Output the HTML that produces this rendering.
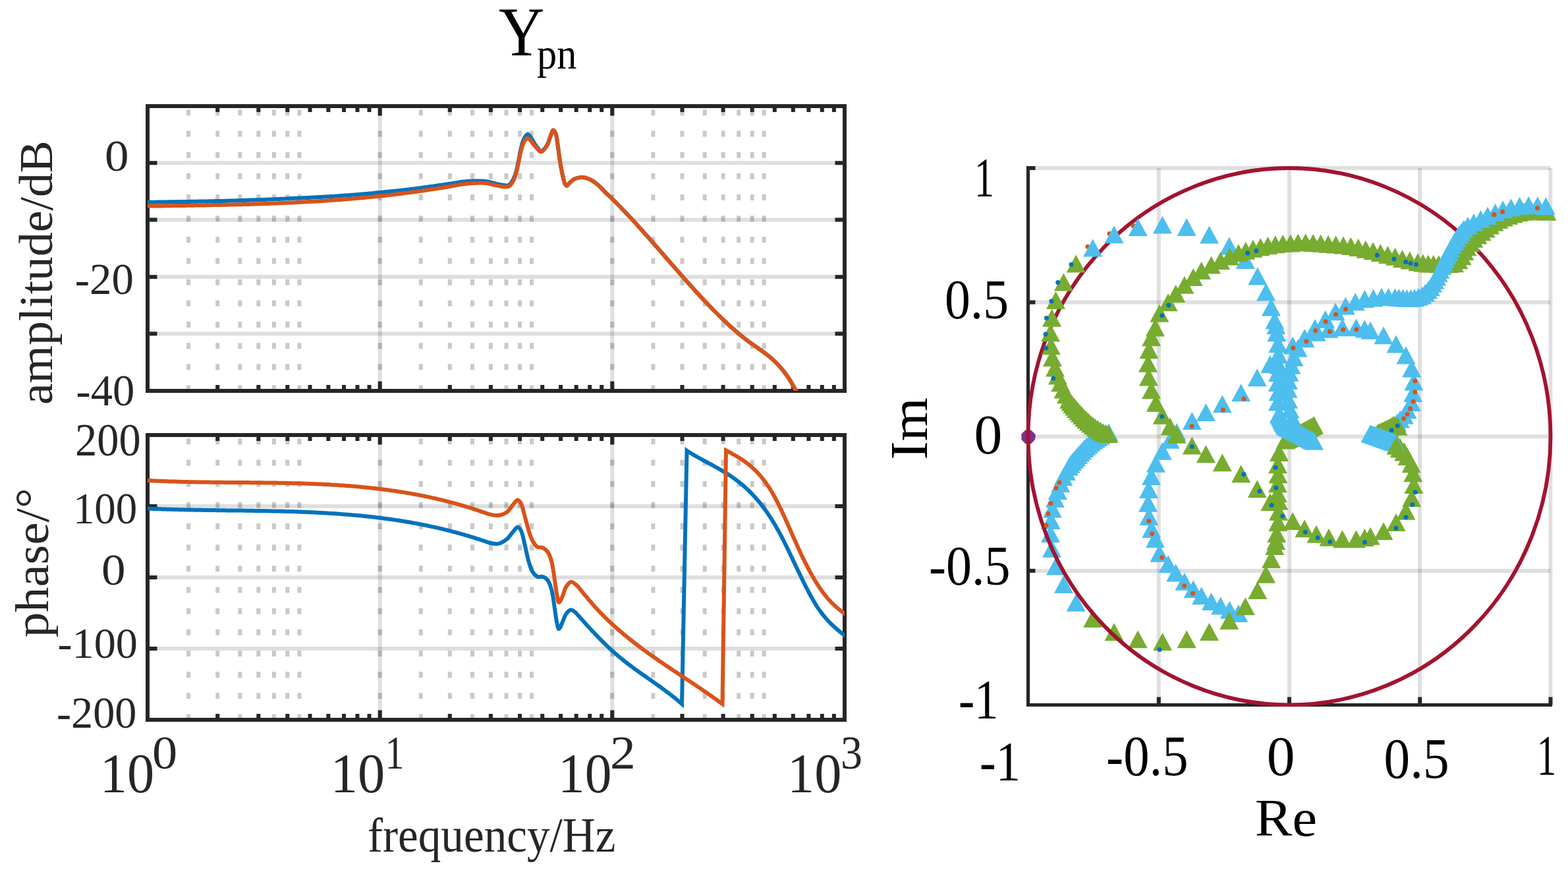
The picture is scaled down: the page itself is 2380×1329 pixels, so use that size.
<!DOCTYPE html>
<html><head><meta charset="utf-8"><title>Ypn</title>
<style>html,body{margin:0;padding:0;background:#fff;overflow:hidden}svg{display:block}text{font-family:"Liberation Serif","Times New Roman",serif}</style>
</head><body>
<svg width="2380" height="1329" viewBox="0 0 2380 1329">
<rect width="2380" height="1329" fill="#fff"/>
<defs><clipPath id="c1"><rect x="224" y="161" width="1058" height="432"/></clipPath><clipPath id="c2"><rect x="224" y="660" width="1058" height="432"/></clipPath></defs>
<line x1="576.7" y1="161.0" x2="576.7" y2="593.0" stroke="#262626" stroke-opacity="0.15" stroke-width="6.0"/>
<line x1="929.3" y1="161.0" x2="929.3" y2="593.0" stroke="#262626" stroke-opacity="0.15" stroke-width="6.0"/>
<line x1="224.0" y1="247.2" x2="1282.0" y2="247.2" stroke="#262626" stroke-opacity="0.15" stroke-width="6.0"/>
<line x1="224.0" y1="333.4" x2="1282.0" y2="333.4" stroke="#262626" stroke-opacity="0.15" stroke-width="6.0"/>
<line x1="224.0" y1="420.1" x2="1282.0" y2="420.1" stroke="#262626" stroke-opacity="0.15" stroke-width="6.0"/>
<line x1="224.0" y1="506.3" x2="1282.0" y2="506.3" stroke="#262626" stroke-opacity="0.15" stroke-width="6.0"/>
<line x1="286.1" y1="593.5" x2="286.1" y2="164.0" stroke="#262626" stroke-opacity="0.25" stroke-width="6.0" stroke-dasharray="9 23.17"/>
<line x1="330.2" y1="593.5" x2="330.2" y2="164.0" stroke="#262626" stroke-opacity="0.25" stroke-width="6.0" stroke-dasharray="9 23.17"/>
<line x1="364.3" y1="593.5" x2="364.3" y2="164.0" stroke="#262626" stroke-opacity="0.25" stroke-width="6.0" stroke-dasharray="9 23.17"/>
<line x1="392.3" y1="593.5" x2="392.3" y2="164.0" stroke="#262626" stroke-opacity="0.25" stroke-width="6.0" stroke-dasharray="9 23.17"/>
<line x1="415.9" y1="593.5" x2="415.9" y2="164.0" stroke="#262626" stroke-opacity="0.25" stroke-width="6.0" stroke-dasharray="9 23.17"/>
<line x1="436.3" y1="593.5" x2="436.3" y2="164.0" stroke="#262626" stroke-opacity="0.25" stroke-width="6.0" stroke-dasharray="9 23.17"/>
<line x1="454.4" y1="593.5" x2="454.4" y2="164.0" stroke="#262626" stroke-opacity="0.25" stroke-width="6.0" stroke-dasharray="9 23.17"/>
<line x1="576.7" y1="593.5" x2="576.7" y2="164.0" stroke="#262626" stroke-opacity="0.25" stroke-width="6.0" stroke-dasharray="9 23.17"/>
<line x1="638.8" y1="593.5" x2="638.8" y2="164.0" stroke="#262626" stroke-opacity="0.25" stroke-width="6.0" stroke-dasharray="9 23.17"/>
<line x1="682.8" y1="593.5" x2="682.8" y2="164.0" stroke="#262626" stroke-opacity="0.25" stroke-width="6.0" stroke-dasharray="9 23.17"/>
<line x1="717" y1="593.5" x2="717" y2="164.0" stroke="#262626" stroke-opacity="0.25" stroke-width="6.0" stroke-dasharray="9 23.17"/>
<line x1="744.9" y1="593.5" x2="744.9" y2="164.0" stroke="#262626" stroke-opacity="0.25" stroke-width="6.0" stroke-dasharray="9 23.17"/>
<line x1="768.5" y1="593.5" x2="768.5" y2="164.0" stroke="#262626" stroke-opacity="0.25" stroke-width="6.0" stroke-dasharray="9 23.17"/>
<line x1="789" y1="593.5" x2="789" y2="164.0" stroke="#262626" stroke-opacity="0.25" stroke-width="6.0" stroke-dasharray="9 23.17"/>
<line x1="807" y1="593.5" x2="807" y2="164.0" stroke="#262626" stroke-opacity="0.25" stroke-width="6.0" stroke-dasharray="9 23.17"/>
<line x1="929.3" y1="593.5" x2="929.3" y2="164.0" stroke="#262626" stroke-opacity="0.25" stroke-width="6.0" stroke-dasharray="9 23.17"/>
<line x1="991.4" y1="593.5" x2="991.4" y2="164.0" stroke="#262626" stroke-opacity="0.25" stroke-width="6.0" stroke-dasharray="9 23.17"/>
<line x1="1035.5" y1="593.5" x2="1035.5" y2="164.0" stroke="#262626" stroke-opacity="0.25" stroke-width="6.0" stroke-dasharray="9 23.17"/>
<line x1="1069.7" y1="593.5" x2="1069.7" y2="164.0" stroke="#262626" stroke-opacity="0.25" stroke-width="6.0" stroke-dasharray="9 23.17"/>
<line x1="1097.6" y1="593.5" x2="1097.6" y2="164.0" stroke="#262626" stroke-opacity="0.25" stroke-width="6.0" stroke-dasharray="9 23.17"/>
<line x1="1121.2" y1="593.5" x2="1121.2" y2="164.0" stroke="#262626" stroke-opacity="0.25" stroke-width="6.0" stroke-dasharray="9 23.17"/>
<line x1="1141.7" y1="593.5" x2="1141.7" y2="164.0" stroke="#262626" stroke-opacity="0.25" stroke-width="6.0" stroke-dasharray="9 23.17"/>
<line x1="1159.7" y1="593.5" x2="1159.7" y2="164.0" stroke="#262626" stroke-opacity="0.25" stroke-width="6.0" stroke-dasharray="9 23.17"/>
<line x1="224" y1="161.0" x2="224" y2="175.5" stroke="#262626" stroke-width="6.0"/>
<line x1="224" y1="593.0" x2="224" y2="578.5" stroke="#262626" stroke-width="6.0"/>
<line x1="330.2" y1="161.0" x2="330.2" y2="170.0" stroke="#262626" stroke-width="6.0"/>
<line x1="330.2" y1="593.0" x2="330.2" y2="584.0" stroke="#262626" stroke-width="6.0"/>
<line x1="392.3" y1="161.0" x2="392.3" y2="170.0" stroke="#262626" stroke-width="6.0"/>
<line x1="392.3" y1="593.0" x2="392.3" y2="584.0" stroke="#262626" stroke-width="6.0"/>
<line x1="436.3" y1="161.0" x2="436.3" y2="170.0" stroke="#262626" stroke-width="6.0"/>
<line x1="436.3" y1="593.0" x2="436.3" y2="584.0" stroke="#262626" stroke-width="6.0"/>
<line x1="470.5" y1="161.0" x2="470.5" y2="170.0" stroke="#262626" stroke-width="6.0"/>
<line x1="470.5" y1="593.0" x2="470.5" y2="584.0" stroke="#262626" stroke-width="6.0"/>
<line x1="498.4" y1="161.0" x2="498.4" y2="170.0" stroke="#262626" stroke-width="6.0"/>
<line x1="498.4" y1="593.0" x2="498.4" y2="584.0" stroke="#262626" stroke-width="6.0"/>
<line x1="522" y1="161.0" x2="522" y2="170.0" stroke="#262626" stroke-width="6.0"/>
<line x1="522" y1="593.0" x2="522" y2="584.0" stroke="#262626" stroke-width="6.0"/>
<line x1="542.5" y1="161.0" x2="542.5" y2="170.0" stroke="#262626" stroke-width="6.0"/>
<line x1="542.5" y1="593.0" x2="542.5" y2="584.0" stroke="#262626" stroke-width="6.0"/>
<line x1="560.5" y1="161.0" x2="560.5" y2="170.0" stroke="#262626" stroke-width="6.0"/>
<line x1="560.5" y1="593.0" x2="560.5" y2="584.0" stroke="#262626" stroke-width="6.0"/>
<line x1="576.7" y1="161.0" x2="576.7" y2="175.5" stroke="#262626" stroke-width="6.0"/>
<line x1="576.7" y1="593.0" x2="576.7" y2="578.5" stroke="#262626" stroke-width="6.0"/>
<line x1="682.8" y1="161.0" x2="682.8" y2="170.0" stroke="#262626" stroke-width="6.0"/>
<line x1="682.8" y1="593.0" x2="682.8" y2="584.0" stroke="#262626" stroke-width="6.0"/>
<line x1="744.9" y1="161.0" x2="744.9" y2="170.0" stroke="#262626" stroke-width="6.0"/>
<line x1="744.9" y1="593.0" x2="744.9" y2="584.0" stroke="#262626" stroke-width="6.0"/>
<line x1="789" y1="161.0" x2="789" y2="170.0" stroke="#262626" stroke-width="6.0"/>
<line x1="789" y1="593.0" x2="789" y2="584.0" stroke="#262626" stroke-width="6.0"/>
<line x1="823.2" y1="161.0" x2="823.2" y2="170.0" stroke="#262626" stroke-width="6.0"/>
<line x1="823.2" y1="593.0" x2="823.2" y2="584.0" stroke="#262626" stroke-width="6.0"/>
<line x1="851.1" y1="161.0" x2="851.1" y2="170.0" stroke="#262626" stroke-width="6.0"/>
<line x1="851.1" y1="593.0" x2="851.1" y2="584.0" stroke="#262626" stroke-width="6.0"/>
<line x1="874.7" y1="161.0" x2="874.7" y2="170.0" stroke="#262626" stroke-width="6.0"/>
<line x1="874.7" y1="593.0" x2="874.7" y2="584.0" stroke="#262626" stroke-width="6.0"/>
<line x1="895.2" y1="161.0" x2="895.2" y2="170.0" stroke="#262626" stroke-width="6.0"/>
<line x1="895.2" y1="593.0" x2="895.2" y2="584.0" stroke="#262626" stroke-width="6.0"/>
<line x1="913.2" y1="161.0" x2="913.2" y2="170.0" stroke="#262626" stroke-width="6.0"/>
<line x1="913.2" y1="593.0" x2="913.2" y2="584.0" stroke="#262626" stroke-width="6.0"/>
<line x1="929.3" y1="161.0" x2="929.3" y2="175.5" stroke="#262626" stroke-width="6.0"/>
<line x1="929.3" y1="593.0" x2="929.3" y2="578.5" stroke="#262626" stroke-width="6.0"/>
<line x1="1035.5" y1="161.0" x2="1035.5" y2="170.0" stroke="#262626" stroke-width="6.0"/>
<line x1="1035.5" y1="593.0" x2="1035.5" y2="584.0" stroke="#262626" stroke-width="6.0"/>
<line x1="1097.6" y1="161.0" x2="1097.6" y2="170.0" stroke="#262626" stroke-width="6.0"/>
<line x1="1097.6" y1="593.0" x2="1097.6" y2="584.0" stroke="#262626" stroke-width="6.0"/>
<line x1="1141.7" y1="161.0" x2="1141.7" y2="170.0" stroke="#262626" stroke-width="6.0"/>
<line x1="1141.7" y1="593.0" x2="1141.7" y2="584.0" stroke="#262626" stroke-width="6.0"/>
<line x1="1175.8" y1="161.0" x2="1175.8" y2="170.0" stroke="#262626" stroke-width="6.0"/>
<line x1="1175.8" y1="593.0" x2="1175.8" y2="584.0" stroke="#262626" stroke-width="6.0"/>
<line x1="1203.8" y1="161.0" x2="1203.8" y2="170.0" stroke="#262626" stroke-width="6.0"/>
<line x1="1203.8" y1="593.0" x2="1203.8" y2="584.0" stroke="#262626" stroke-width="6.0"/>
<line x1="1227.4" y1="161.0" x2="1227.4" y2="170.0" stroke="#262626" stroke-width="6.0"/>
<line x1="1227.4" y1="593.0" x2="1227.4" y2="584.0" stroke="#262626" stroke-width="6.0"/>
<line x1="1247.8" y1="161.0" x2="1247.8" y2="170.0" stroke="#262626" stroke-width="6.0"/>
<line x1="1247.8" y1="593.0" x2="1247.8" y2="584.0" stroke="#262626" stroke-width="6.0"/>
<line x1="1265.9" y1="161.0" x2="1265.9" y2="170.0" stroke="#262626" stroke-width="6.0"/>
<line x1="1265.9" y1="593.0" x2="1265.9" y2="584.0" stroke="#262626" stroke-width="6.0"/>
<line x1="1282" y1="161.0" x2="1282" y2="175.5" stroke="#262626" stroke-width="6.0"/>
<line x1="1282" y1="593.0" x2="1282" y2="578.5" stroke="#262626" stroke-width="6.0"/>
<line x1="224.0" y1="247.2" x2="238.5" y2="247.2" stroke="#262626" stroke-width="6.0"/>
<line x1="1282.0" y1="247.2" x2="1267.5" y2="247.2" stroke="#262626" stroke-width="6.0"/>
<line x1="224.0" y1="333.4" x2="238.5" y2="333.4" stroke="#262626" stroke-width="6.0"/>
<line x1="1282.0" y1="333.4" x2="1267.5" y2="333.4" stroke="#262626" stroke-width="6.0"/>
<line x1="224.0" y1="420.1" x2="238.5" y2="420.1" stroke="#262626" stroke-width="6.0"/>
<line x1="1282.0" y1="420.1" x2="1267.5" y2="420.1" stroke="#262626" stroke-width="6.0"/>
<line x1="224.0" y1="506.3" x2="238.5" y2="506.3" stroke="#262626" stroke-width="6.0"/>
<line x1="1282.0" y1="506.3" x2="1267.5" y2="506.3" stroke="#262626" stroke-width="6.0"/>
<rect x="224.0" y="161.0" width="1058.0" height="432.0" fill="none" stroke="#262626" stroke-width="6.0" stroke-linejoin="miter" stroke-linecap="square"/>
<g clip-path="url(#c1)" fill="none" stroke-width="6.0" stroke-linejoin="round">
<path d="M224.0 306.8 C225.0 306.8 226.0 306.8 227.0 306.8 C228.0 306.8 229.0 306.8 230.0 306.8 C231.0 306.7 232.0 306.7 233.0 306.7 C234.0 306.7 235.0 306.7 236.1 306.7 C237.1 306.6 238.1 306.6 239.1 306.6 C240.1 306.6 241.1 306.6 242.1 306.6 C243.1 306.6 244.1 306.5 245.1 306.5 C246.1 306.5 247.1 306.5 248.1 306.5 C249.1 306.5 250.1 306.5 251.1 306.4 C252.1 306.4 253.1 306.4 254.1 306.4 C255.1 306.4 256.1 306.4 257.1 306.3 C258.1 306.3 259.1 306.3 260.2 306.3 C261.2 306.3 262.2 306.3 263.2 306.2 C264.2 306.2 265.2 306.2 266.2 306.2 C267.2 306.2 268.2 306.2 269.2 306.2 C270.2 306.1 271.2 306.1 272.2 306.1 C273.2 306.1 274.2 306.1 275.2 306.1 C276.2 306.0 277.2 306.0 278.2 306.0 C279.2 306.0 280.2 306.0 281.2 306.0 C282.2 305.9 283.2 305.9 284.3 305.9 C285.3 305.9 286.3 305.9 287.3 305.9 C288.3 305.8 289.3 305.8 290.3 305.8 C291.3 305.8 292.3 305.8 293.3 305.8 C294.3 305.7 295.3 305.7 296.3 305.7 C297.3 305.7 298.3 305.7 299.3 305.7 C300.3 305.6 301.3 305.6 302.3 305.6 C303.3 305.6 304.3 305.6 305.3 305.5 C306.3 305.5 307.4 305.5 308.4 305.5 C309.4 305.5 310.4 305.4 311.4 305.4 C312.4 305.4 313.4 305.4 314.4 305.4 C315.4 305.3 316.4 305.3 317.4 305.3 C318.4 305.3 319.4 305.3 320.4 305.2 C321.4 305.2 322.4 305.2 323.4 305.2 C324.4 305.2 325.4 305.1 326.4 305.1 C327.4 305.1 328.4 305.1 329.4 305.1 C330.4 305.0 331.5 305.0 332.5 305.0 C333.5 305.0 334.5 304.9 335.5 304.9 C336.5 304.9 337.5 304.9 338.5 304.9 C339.5 304.8 340.5 304.8 341.5 304.8 C342.5 304.8 343.5 304.7 344.5 304.7 C345.5 304.7 346.5 304.7 347.5 304.6 C348.5 304.6 349.5 304.6 350.5 304.6 C351.5 304.5 352.5 304.5 353.5 304.5 C354.5 304.5 355.6 304.4 356.6 304.4 C357.6 304.4 358.6 304.3 359.6 304.3 C360.6 304.3 361.6 304.3 362.6 304.2 C363.6 304.2 364.6 304.2 365.6 304.1 C366.6 304.1 367.6 304.1 368.6 304.0 C369.6 304.0 370.6 304.0 371.6 303.9 C372.6 303.9 373.6 303.9 374.6 303.8 C375.6 303.8 376.6 303.8 377.6 303.7 C378.6 303.7 379.7 303.7 380.7 303.6 C381.7 303.6 382.7 303.6 383.7 303.5 C384.7 303.5 385.7 303.5 386.7 303.4 C387.7 303.4 388.7 303.4 389.7 303.3 C390.7 303.3 391.7 303.2 392.7 303.2 C393.7 303.2 394.7 303.1 395.7 303.1 C396.7 303.1 397.7 303.0 398.7 303.0 C399.7 302.9 400.7 302.9 401.7 302.9 C402.8 302.8 403.8 302.8 404.8 302.7 C405.8 302.7 406.8 302.7 407.8 302.6 C408.8 302.6 409.8 302.5 410.8 302.5 C411.8 302.5 412.8 302.4 413.8 302.4 C414.8 302.3 415.8 302.3 416.8 302.2 C417.8 302.2 418.8 302.2 419.8 302.1 C420.8 302.1 421.8 302.0 422.8 302.0 C423.8 301.9 424.8 301.9 425.8 301.8 C426.9 301.8 427.9 301.7 428.9 301.7 C429.9 301.6 430.9 301.6 431.9 301.6 C432.9 301.5 433.9 301.5 434.9 301.4 C435.9 301.4 436.9 301.3 437.9 301.3 C438.9 301.2 439.9 301.2 440.9 301.1 C441.9 301.1 442.9 301.0 443.9 301.0 C444.9 300.9 445.9 300.9 446.9 300.8 C447.9 300.8 448.9 300.8 449.9 300.7 C451.0 300.7 452.0 300.6 453.0 300.6 C454.0 300.5 455.0 300.5 456.0 300.5 C457.0 300.4 458.0 300.4 459.0 300.3 C460.0 300.3 461.0 300.2 462.0 300.2 C463.0 300.1 464.0 300.1 465.0 300.0 C466.0 300.0 467.0 299.9 468.0 299.9 C469.0 299.8 470.0 299.8 471.0 299.7 C472.0 299.7 473.0 299.6 474.1 299.6 C475.1 299.5 476.1 299.5 477.1 299.4 C478.1 299.4 479.1 299.3 480.1 299.3 C481.1 299.2 482.1 299.2 483.1 299.1 C484.1 299.1 485.1 299.0 486.1 298.9 C487.1 298.9 488.1 298.8 489.1 298.8 C490.1 298.7 491.1 298.7 492.1 298.6 C493.1 298.5 494.1 298.5 495.1 298.4 C496.1 298.4 497.1 298.3 498.2 298.2 C499.2 298.2 500.2 298.1 501.2 298.0 C502.2 298.0 503.2 297.9 504.2 297.9 C505.2 297.8 506.2 297.7 507.2 297.7 C508.2 297.6 509.2 297.5 510.2 297.5 C511.2 297.4 512.2 297.3 513.2 297.3 C514.2 297.2 515.2 297.1 516.2 297.1 C517.2 297.0 518.2 296.9 519.2 296.8 C520.2 296.8 521.2 296.7 522.3 296.6 C523.3 296.6 524.3 296.5 525.3 296.4 C526.3 296.3 527.3 296.3 528.3 296.2 C529.3 296.1 530.3 296.0 531.3 296.0 C532.3 295.9 533.3 295.8 534.3 295.7 C535.3 295.7 536.3 295.6 537.3 295.5 C538.3 295.4 539.3 295.3 540.3 295.3 C541.3 295.2 542.3 295.1 543.3 295.0 C544.3 294.9 545.4 294.8 546.4 294.8 C547.4 294.7 548.4 294.6 549.4 294.5 C550.4 294.4 551.4 294.3 552.4 294.3 C553.4 294.2 554.4 294.1 555.4 294.0 C556.4 293.9 557.4 293.8 558.4 293.7 C559.4 293.6 560.4 293.5 561.4 293.4 C562.4 293.4 563.4 293.3 564.4 293.2 C565.4 293.1 566.4 293.0 567.4 292.9 C568.4 292.8 569.5 292.7 570.5 292.6 C571.5 292.5 572.5 292.4 573.5 292.3 C574.5 292.2 575.5 292.1 576.5 292.0 C577.5 291.9 578.5 291.8 579.5 291.7 C580.5 291.6 581.5 291.5 582.5 291.4 C583.5 291.3 584.5 291.2 585.5 291.1 C586.5 291.0 587.5 290.9 588.5 290.8 C589.5 290.7 590.5 290.6 591.5 290.5 C592.5 290.4 593.6 290.3 594.6 290.2 C595.6 290.1 596.6 290.0 597.6 289.9 C598.6 289.8 599.6 289.7 600.6 289.6 C601.6 289.5 602.6 289.4 603.6 289.2 C604.6 289.1 605.6 289.0 606.6 288.9 C607.6 288.8 608.6 288.7 609.6 288.6 C610.6 288.5 611.6 288.3 612.6 288.2 C613.6 288.1 614.6 288.0 615.6 287.9 C616.6 287.8 617.7 287.6 618.7 287.5 C619.7 287.4 620.7 287.3 621.7 287.2 C622.7 287.0 623.7 286.9 624.7 286.8 C625.7 286.7 626.7 286.5 627.7 286.4 C628.7 286.3 629.7 286.2 630.7 286.0 C631.7 285.9 632.7 285.8 633.7 285.6 C634.7 285.5 635.7 285.4 636.7 285.3 C637.7 285.1 638.7 285.0 639.7 284.9 C640.8 284.7 641.8 284.6 642.8 284.5 C643.8 284.3 644.8 284.2 645.8 284.1 C646.8 283.9 647.8 283.8 648.8 283.6 C649.8 283.5 650.8 283.4 651.8 283.2 C652.8 283.1 653.8 282.9 654.8 282.8 C655.8 282.6 656.8 282.5 657.8 282.4 C658.8 282.2 659.8 282.1 660.8 281.9 C661.8 281.8 662.8 281.6 663.8 281.5 C664.9 281.3 665.9 281.2 666.9 281.0 C667.9 280.9 668.9 280.8 669.9 280.6 C670.9 280.5 671.9 280.3 672.9 280.2 C673.9 280.0 674.9 279.9 675.9 279.7 C676.9 279.6 677.9 279.4 678.9 279.3 C679.9 279.1 680.9 279.0 681.9 278.8 C682.9 278.7 683.9 278.5 684.9 278.4 C685.9 278.2 686.9 278.1 687.9 277.9 C689.0 277.8 690.0 277.6 691.0 277.5 C692.0 277.3 693.0 277.1 694.0 277.0 C695.0 276.8 696.0 276.7 697.0 276.5 C698.0 276.3 698.5 276.2 700.0 276.0 C703.9 275.5 715.0 274.7 721.8 274.5 C727.7 274.4 732.8 274.3 738.2 275.1 C743.7 275.8 749.4 278.1 754.6 279.2 C759.4 280.1 764.9 281.5 768.3 281.4 C770.4 281.3 771.7 281.3 773.2 280.3 C775.3 278.8 777.4 275.2 779.0 272.2 C780.8 268.9 782.0 265.2 783.2 261.2 C784.5 256.8 785.4 251.8 786.5 246.8 C787.7 241.3 788.6 234.9 789.8 229.5 C790.8 224.8 791.7 220.2 793.1 216.2 C794.3 212.7 795.7 209.2 797.3 206.9 C798.4 205.3 799.8 203.4 801.0 203.4 C802.2 203.4 803.5 205.5 804.7 207.0 C806.4 209.1 807.9 212.4 809.7 215.1 C811.5 218.0 813.5 221.2 815.5 223.7 C817.2 225.8 818.9 229.1 820.8 229.4 C822.5 229.6 824.6 227.5 826.2 226.0 C828.1 224.1 829.8 221.5 831.2 218.7 C832.9 215.4 833.8 211.0 835.3 207.4 C836.7 204.0 838.3 197.7 839.9 197.6 C841.1 197.5 842.6 200.7 843.6 203.0 C845.0 206.4 845.3 211.7 846.1 216.5 C847.0 222.1 847.7 228.8 848.6 234.7 C849.4 240.3 850.1 245.7 851.1 251.2 C852.1 256.7 853.2 262.8 854.4 267.8 C855.4 272.0 856.3 277.0 857.7 279.4 C858.4 280.7 859.3 281.9 860.2 281.9 C861.4 281.9 862.8 279.1 864.3 277.7 C866.0 276.1 868.1 273.9 870.0 272.7 C871.6 271.7 872.9 271.1 874.8 270.5 C877.2 269.7 880.5 268.9 883.5 269.0 C886.9 269.1 890.7 270.2 894.4 271.8 C898.7 273.7 903.6 277.2 907.6 280.5 C911.5 283.7 915.6 288.7 918.0 291.0 C919.3 292.3 920.0 292.9 921.0 293.8 C922.0 294.8 923.0 295.7 924.0 296.7 C925.0 297.6 926.0 298.6 927.0 299.6 C928.0 300.5 929.0 301.5 930.0 302.5 C931.0 303.5 932.0 304.5 933.0 305.4 C934.0 306.4 935.0 307.4 936.0 308.4 C937.0 309.4 938.0 310.5 939.0 311.5 C940.0 312.5 941.0 313.5 942.0 314.5 C943.0 315.6 944.0 316.6 945.0 317.6 C946.0 318.7 947.0 319.7 948.0 320.8 C949.0 321.8 950.0 322.9 951.0 323.9 C952.0 325.0 953.0 326.0 954.0 327.1 C955.0 328.2 956.0 329.2 957.0 330.3 C958.0 331.4 959.0 332.5 960.0 333.5 C961.0 334.6 962.0 335.7 963.0 336.8 C964.0 337.9 965.0 339.0 966.0 340.1 C967.0 341.2 968.0 342.3 969.0 343.4 C970.0 344.5 971.0 345.6 972.0 346.7 C973.0 347.8 974.0 348.9 975.0 350.0 C976.0 351.1 977.0 352.3 978.0 353.4 C979.0 354.5 980.0 355.6 981.0 356.8 C982.0 357.9 983.0 359.0 984.0 360.1 C985.0 361.3 986.0 362.4 987.0 363.5 C988.0 364.7 989.0 365.8 990.0 366.9 C991.0 368.1 992.0 369.2 993.0 370.4 C994.0 371.5 995.0 372.6 996.0 373.8 C997.0 374.9 998.0 376.1 999.0 377.2 C1000.0 378.4 1001.0 379.5 1002.0 380.6 C1003.0 381.8 1004.0 382.9 1005.0 384.1 C1006.0 385.2 1007.0 386.4 1008.0 387.5 C1009.0 388.7 1010.0 389.8 1011.0 391.0 C1012.0 392.1 1013.0 393.3 1014.0 394.4 C1015.0 395.6 1016.0 396.7 1017.0 397.9 C1018.0 399.0 1019.0 400.2 1020.0 401.3 C1021.0 402.5 1022.0 403.6 1023.0 404.7 C1024.0 405.9 1025.0 407.0 1026.0 408.2 C1027.0 409.3 1028.0 410.5 1029.0 411.6 C1030.0 412.7 1031.0 413.9 1032.0 415.0 C1033.0 416.2 1034.0 417.3 1035.0 418.4 C1036.0 419.6 1037.0 420.7 1038.0 421.8 C1039.0 422.9 1040.0 424.1 1041.0 425.2 C1042.0 426.3 1043.0 427.4 1044.0 428.6 C1045.0 429.7 1046.0 430.8 1047.0 431.9 C1048.0 433.0 1049.0 434.1 1050.0 435.3 C1051.0 436.4 1052.0 437.5 1053.0 438.6 C1054.0 439.7 1055.0 440.8 1056.0 441.9 C1057.0 443.0 1058.0 444.1 1059.0 445.2 C1060.0 446.2 1061.0 447.3 1062.0 448.4 C1063.0 449.5 1064.0 450.6 1065.0 451.6 C1066.0 452.7 1067.0 453.8 1068.0 454.9 C1069.0 455.9 1070.0 457.0 1071.0 458.0 C1072.0 459.1 1073.0 460.1 1074.0 461.2 C1075.0 462.2 1076.0 463.3 1077.0 464.3 C1078.0 465.3 1079.0 466.4 1080.0 467.4 C1081.0 468.4 1082.0 469.5 1083.0 470.5 C1084.0 471.5 1085.0 472.5 1086.0 473.5 C1087.0 474.5 1088.0 475.5 1089.0 476.5 C1090.0 477.5 1091.0 478.5 1092.0 479.4 C1093.0 480.4 1094.0 481.4 1095.0 482.4 C1096.0 483.3 1097.0 484.3 1098.0 485.3 C1099.0 486.2 1100.0 487.2 1101.0 488.1 C1102.0 489.0 1103.0 490.0 1104.0 490.9 C1105.0 491.8 1106.0 492.7 1107.0 493.7 C1108.0 494.6 1109.0 495.5 1110.0 496.4 C1111.0 497.3 1112.0 498.1 1113.0 499.0 C1114.0 499.9 1115.0 500.8 1116.0 501.7 C1117.0 502.5 1118.0 503.4 1119.0 504.2 C1120.0 505.1 1121.0 505.9 1122.0 506.7 C1123.0 507.6 1124.0 508.4 1125.0 509.2 C1126.0 510.0 1127.0 510.8 1128.0 511.6 C1129.0 512.4 1130.0 513.2 1131.0 514.0 C1132.0 514.8 1133.0 515.5 1134.0 516.3 C1135.0 517.1 1136.0 517.8 1137.0 518.6 C1138.0 519.3 1139.0 520.0 1140.0 520.8 C1141.0 521.5 1142.0 522.2 1143.0 522.9 C1144.0 523.6 1145.0 524.3 1146.0 525.0 C1147.0 525.7 1148.0 526.4 1149.0 527.1 C1150.0 527.8 1151.0 528.5 1152.0 529.2 C1153.0 529.9 1154.0 530.6 1155.0 531.3 C1156.0 532.0 1157.0 532.7 1158.0 533.5 C1159.0 534.2 1160.0 534.9 1161.0 535.7 C1162.0 536.4 1163.0 537.2 1164.0 538.0 C1165.0 538.8 1166.0 539.5 1167.0 540.4 C1168.0 541.2 1169.0 542.0 1170.0 542.9 C1171.0 543.7 1172.0 544.6 1173.0 545.5 C1174.0 546.4 1175.0 547.3 1176.0 548.3 C1177.0 549.3 1178.0 550.2 1179.0 551.3 C1180.0 552.3 1181.0 553.3 1182.0 554.4 C1183.0 555.5 1184.0 556.6 1185.0 557.8 C1186.0 558.9 1187.0 560.1 1188.0 561.4 C1189.0 562.6 1190.0 563.9 1191.0 565.2 C1192.0 566.5 1193.0 567.9 1194.0 569.3 C1195.0 570.7 1196.0 572.2 1197.0 573.7 C1198.0 575.2 1199.0 576.8 1200.0 578.4 C1201.0 580.0 1202.0 581.7 1203.0 583.4 C1204.0 585.2 1205.0 587.0 1206.0 588.8 C1207.0 590.6 1208.0 592.6 1209.0 594.5" stroke="#0072BD"/>
<path d="M224.0 312.6 C225.0 312.6 226.0 312.6 227.0 312.6 C228.0 312.6 229.0 312.6 230.0 312.6 C231.0 312.5 232.0 312.5 233.0 312.5 C234.0 312.5 235.0 312.5 236.1 312.5 C237.1 312.5 238.1 312.5 239.1 312.4 C240.1 312.4 241.1 312.4 242.1 312.4 C243.1 312.4 244.1 312.4 245.1 312.4 C246.1 312.3 247.1 312.3 248.1 312.3 C249.1 312.3 250.1 312.3 251.1 312.3 C252.1 312.3 253.1 312.2 254.1 312.2 C255.1 312.2 256.1 312.2 257.1 312.2 C258.1 312.2 259.1 312.2 260.2 312.2 C261.2 312.1 262.2 312.1 263.2 312.1 C264.2 312.1 265.2 312.1 266.2 312.1 C267.2 312.1 268.2 312.0 269.2 312.0 C270.2 312.0 271.2 312.0 272.2 312.0 C273.2 312.0 274.2 312.0 275.2 311.9 C276.2 311.9 277.2 311.9 278.2 311.9 C279.2 311.9 280.2 311.9 281.2 311.9 C282.2 311.8 283.2 311.8 284.3 311.8 C285.3 311.8 286.3 311.8 287.3 311.8 C288.3 311.7 289.3 311.7 290.3 311.7 C291.3 311.7 292.3 311.7 293.3 311.7 C294.3 311.6 295.3 311.6 296.3 311.6 C297.3 311.6 298.3 311.6 299.3 311.6 C300.3 311.6 301.3 311.5 302.3 311.5 C303.3 311.5 304.3 311.5 305.3 311.5 C306.3 311.4 307.4 311.4 308.4 311.4 C309.4 311.4 310.4 311.4 311.4 311.4 C312.4 311.3 313.4 311.3 314.4 311.3 C315.4 311.3 316.4 311.3 317.4 311.3 C318.4 311.2 319.4 311.2 320.4 311.2 C321.4 311.2 322.4 311.2 323.4 311.1 C324.4 311.1 325.4 311.1 326.4 311.1 C327.4 311.1 328.4 311.0 329.4 311.0 C330.4 311.0 331.5 311.0 332.5 311.0 C333.5 310.9 334.5 310.9 335.5 310.9 C336.5 310.9 337.5 310.9 338.5 310.8 C339.5 310.8 340.5 310.8 341.5 310.8 C342.5 310.7 343.5 310.7 344.5 310.7 C345.5 310.7 346.5 310.7 347.5 310.6 C348.5 310.6 349.5 310.6 350.5 310.6 C351.5 310.5 352.5 310.5 353.5 310.5 C354.5 310.5 355.6 310.4 356.6 310.4 C357.6 310.4 358.6 310.4 359.6 310.3 C360.6 310.3 361.6 310.3 362.6 310.3 C363.6 310.2 364.6 310.2 365.6 310.2 C366.6 310.2 367.6 310.1 368.6 310.1 C369.6 310.1 370.6 310.1 371.6 310.0 C372.6 310.0 373.6 310.0 374.6 309.9 C375.6 309.9 376.6 309.9 377.6 309.9 C378.6 309.8 379.7 309.8 380.7 309.8 C381.7 309.7 382.7 309.7 383.7 309.7 C384.7 309.6 385.7 309.6 386.7 309.6 C387.7 309.6 388.7 309.5 389.7 309.5 C390.7 309.5 391.7 309.4 392.7 309.4 C393.7 309.4 394.7 309.3 395.7 309.3 C396.7 309.3 397.7 309.2 398.7 309.2 C399.7 309.2 400.7 309.1 401.7 309.1 C402.8 309.1 403.8 309.0 404.8 309.0 C405.8 308.9 406.8 308.9 407.8 308.9 C408.8 308.8 409.8 308.8 410.8 308.8 C411.8 308.7 412.8 308.7 413.8 308.6 C414.8 308.6 415.8 308.6 416.8 308.5 C417.8 308.5 418.8 308.5 419.8 308.4 C420.8 308.4 421.8 308.3 422.8 308.3 C423.8 308.2 424.8 308.2 425.8 308.2 C426.9 308.1 427.9 308.1 428.9 308.0 C429.9 308.0 430.9 308.0 431.9 307.9 C432.9 307.9 433.9 307.8 434.9 307.8 C435.9 307.7 436.9 307.7 437.9 307.6 C438.9 307.6 439.9 307.5 440.9 307.5 C441.9 307.5 442.9 307.4 443.9 307.4 C444.9 307.3 445.9 307.3 446.9 307.2 C447.9 307.2 448.9 307.1 449.9 307.1 C451.0 307.0 452.0 307.0 453.0 306.9 C454.0 306.9 455.0 306.8 456.0 306.8 C457.0 306.7 458.0 306.7 459.0 306.6 C460.0 306.6 461.0 306.5 462.0 306.4 C463.0 306.4 464.0 306.3 465.0 306.3 C466.0 306.2 467.0 306.2 468.0 306.1 C469.0 306.1 470.0 306.0 471.0 305.9 C472.0 305.9 473.0 305.8 474.1 305.8 C475.1 305.7 476.1 305.7 477.1 305.6 C478.1 305.5 479.1 305.5 480.1 305.4 C481.1 305.4 482.1 305.3 483.1 305.2 C484.1 305.2 485.1 305.1 486.1 305.0 C487.1 305.0 488.1 304.9 489.1 304.9 C490.1 304.8 491.1 304.7 492.1 304.7 C493.1 304.6 494.1 304.5 495.1 304.5 C496.1 304.4 497.1 304.3 498.2 304.3 C499.2 304.2 500.2 304.1 501.2 304.0 C502.2 304.0 503.2 303.9 504.2 303.8 C505.2 303.8 506.2 303.7 507.2 303.6 C508.2 303.6 509.2 303.5 510.2 303.4 C511.2 303.3 512.2 303.3 513.2 303.2 C514.2 303.1 515.2 303.0 516.2 303.0 C517.2 302.9 518.2 302.8 519.2 302.7 C520.2 302.6 521.2 302.6 522.3 302.5 C523.3 302.4 524.3 302.3 525.3 302.3 C526.3 302.2 527.3 302.1 528.3 302.0 C529.3 301.9 530.3 301.8 531.3 301.8 C532.3 301.7 533.3 301.6 534.3 301.5 C535.3 301.4 536.3 301.3 537.3 301.3 C538.3 301.2 539.3 301.1 540.3 301.0 C541.3 300.9 542.3 300.8 543.3 300.7 C544.3 300.6 545.4 300.6 546.4 300.5 C547.4 300.4 548.4 300.3 549.4 300.2 C550.4 300.1 551.4 300.0 552.4 299.9 C553.4 299.8 554.4 299.7 555.4 299.6 C556.4 299.5 557.4 299.4 558.4 299.3 C559.4 299.2 560.4 299.1 561.4 299.0 C562.4 298.9 563.4 298.8 564.4 298.7 C565.4 298.6 566.4 298.5 567.4 298.4 C568.4 298.3 569.5 298.2 570.5 298.1 C571.5 298.0 572.5 297.9 573.5 297.8 C574.5 297.7 575.5 297.6 576.5 297.5 C577.5 297.4 578.5 297.3 579.5 297.2 C580.5 297.1 581.5 297.0 582.5 296.9 C583.5 296.8 584.5 296.6 585.5 296.5 C586.5 296.4 587.5 296.3 588.5 296.2 C589.5 296.1 590.5 296.0 591.5 295.9 C592.5 295.7 593.6 295.6 594.6 295.5 C595.6 295.4 596.6 295.3 597.6 295.2 C598.6 295.0 599.6 294.9 600.6 294.8 C601.6 294.7 602.6 294.6 603.6 294.4 C604.6 294.3 605.6 294.2 606.6 294.1 C607.6 293.9 608.6 293.8 609.6 293.7 C610.6 293.6 611.6 293.4 612.6 293.3 C613.6 293.2 614.6 293.1 615.6 292.9 C616.6 292.8 617.7 292.7 618.7 292.5 C619.7 292.4 620.7 292.3 621.7 292.1 C622.7 292.0 623.7 291.9 624.7 291.7 C625.7 291.6 626.7 291.5 627.7 291.3 C628.7 291.2 629.7 291.1 630.7 290.9 C631.7 290.8 632.7 290.6 633.7 290.5 C634.7 290.4 635.7 290.2 636.7 290.1 C637.7 289.9 638.7 289.8 639.7 289.6 C640.8 289.5 641.8 289.4 642.8 289.2 C643.8 289.1 644.8 288.9 645.8 288.8 C646.8 288.6 647.8 288.5 648.8 288.3 C649.8 288.2 650.8 288.0 651.8 287.9 C652.8 287.7 653.8 287.6 654.8 287.4 C655.8 287.2 656.8 287.1 657.8 286.9 C658.8 286.8 659.8 286.6 660.8 286.5 C661.8 286.3 662.8 286.1 663.8 286.0 C664.9 285.8 665.9 285.7 666.9 285.5 C667.9 285.3 668.9 285.2 669.9 285.0 C670.9 284.8 671.9 284.7 672.9 284.5 C673.9 284.3 674.9 284.2 675.9 284.0 C676.9 283.8 677.9 283.7 678.9 283.5 C679.9 283.3 680.9 283.2 681.9 283.0 C682.9 282.8 683.9 282.6 684.9 282.5 C685.9 282.3 686.9 282.1 687.9 281.9 C689.0 281.7 690.0 281.6 691.0 281.4 C692.0 281.2 693.0 281.0 694.0 280.8 C695.0 280.7 696.0 280.5 697.0 280.3 C698.0 280.1 698.5 279.9 700.0 279.7 C703.9 279.2 715.0 278.1 721.8 277.8 C727.6 277.6 732.8 277.3 738.2 277.9 C743.7 278.5 749.4 280.6 754.6 281.6 C759.4 282.5 764.9 283.7 768.3 283.5 C770.4 283.4 771.7 283.3 773.2 282.3 C775.3 280.9 777.4 277.4 779.0 274.4 C780.8 271.2 782.0 267.5 783.2 263.6 C784.5 259.3 785.4 254.5 786.5 249.6 C787.6 244.3 788.6 238.1 789.8 233.0 C790.8 228.5 791.7 224.3 793.1 220.6 C794.3 217.5 795.7 214.2 797.3 212.3 C798.4 210.9 799.8 209.4 801.0 209.4 C802.2 209.4 803.5 211.0 804.7 212.3 C806.3 214.0 807.9 216.7 809.7 218.9 C811.5 221.2 813.6 223.6 815.5 225.6 C817.3 227.4 819.0 230.4 820.8 230.5 C822.6 230.6 824.6 228.1 826.2 226.4 C828.1 224.4 829.8 221.8 831.2 218.9 C832.9 215.6 833.8 211.0 835.3 207.4 C836.7 204.0 838.3 197.7 839.9 197.6 C841.1 197.5 842.6 200.7 843.6 203.0 C845.0 206.4 845.3 211.7 846.1 216.5 C847.0 222.1 847.7 228.8 848.6 234.7 C849.4 240.3 850.1 245.7 851.1 251.2 C852.1 256.7 853.2 262.8 854.4 267.8 C855.4 272.0 856.3 277.0 857.7 279.4 C858.4 280.7 859.3 281.9 860.2 281.9 C861.4 281.9 862.8 279.1 864.3 277.7 C866.0 276.1 868.1 273.9 870.0 272.7 C871.6 271.7 872.9 271.1 874.8 270.5 C877.2 269.7 880.5 268.9 883.5 269.0 C886.9 269.1 890.7 270.2 894.4 271.8 C898.7 273.7 903.6 277.2 907.6 280.5 C911.5 283.7 915.6 288.7 918.0 291.0 C919.3 292.3 920.0 292.9 921.0 293.8 C922.0 294.8 923.0 295.7 924.0 296.7 C925.0 297.6 926.0 298.6 927.0 299.6 C928.0 300.5 929.0 301.5 930.0 302.5 C931.0 303.5 932.0 304.5 933.0 305.4 C934.0 306.4 935.0 307.4 936.0 308.4 C937.0 309.4 938.0 310.5 939.0 311.5 C940.0 312.5 941.0 313.5 942.0 314.5 C943.0 315.6 944.0 316.6 945.0 317.6 C946.0 318.7 947.0 319.7 948.0 320.8 C949.0 321.8 950.0 322.9 951.0 323.9 C952.0 325.0 953.0 326.0 954.0 327.1 C955.0 328.2 956.0 329.2 957.0 330.3 C958.0 331.4 959.0 332.5 960.0 333.5 C961.0 334.6 962.0 335.7 963.0 336.8 C964.0 337.9 965.0 339.0 966.0 340.1 C967.0 341.2 968.0 342.3 969.0 343.4 C970.0 344.5 971.0 345.6 972.0 346.7 C973.0 347.8 974.0 348.9 975.0 350.0 C976.0 351.1 977.0 352.3 978.0 353.4 C979.0 354.5 980.0 355.6 981.0 356.8 C982.0 357.9 983.0 359.0 984.0 360.1 C985.0 361.3 986.0 362.4 987.0 363.5 C988.0 364.7 989.0 365.8 990.0 366.9 C991.0 368.1 992.0 369.2 993.0 370.4 C994.0 371.5 995.0 372.6 996.0 373.8 C997.0 374.9 998.0 376.1 999.0 377.2 C1000.0 378.4 1001.0 379.5 1002.0 380.6 C1003.0 381.8 1004.0 382.9 1005.0 384.1 C1006.0 385.2 1007.0 386.4 1008.0 387.5 C1009.0 388.7 1010.0 389.8 1011.0 391.0 C1012.0 392.1 1013.0 393.3 1014.0 394.4 C1015.0 395.6 1016.0 396.7 1017.0 397.9 C1018.0 399.0 1019.0 400.2 1020.0 401.3 C1021.0 402.5 1022.0 403.6 1023.0 404.7 C1024.0 405.9 1025.0 407.0 1026.0 408.2 C1027.0 409.3 1028.0 410.5 1029.0 411.6 C1030.0 412.7 1031.0 413.9 1032.0 415.0 C1033.0 416.2 1034.0 417.3 1035.0 418.4 C1036.0 419.6 1037.0 420.7 1038.0 421.8 C1039.0 422.9 1040.0 424.1 1041.0 425.2 C1042.0 426.3 1043.0 427.4 1044.0 428.6 C1045.0 429.7 1046.0 430.8 1047.0 431.9 C1048.0 433.0 1049.0 434.1 1050.0 435.3 C1051.0 436.4 1052.0 437.5 1053.0 438.6 C1054.0 439.7 1055.0 440.8 1056.0 441.9 C1057.0 443.0 1058.0 444.1 1059.0 445.2 C1060.0 446.2 1061.0 447.3 1062.0 448.4 C1063.0 449.5 1064.0 450.6 1065.0 451.6 C1066.0 452.7 1067.0 453.8 1068.0 454.9 C1069.0 455.9 1070.0 457.0 1071.0 458.0 C1072.0 459.1 1073.0 460.1 1074.0 461.2 C1075.0 462.2 1076.0 463.3 1077.0 464.3 C1078.0 465.3 1079.0 466.4 1080.0 467.4 C1081.0 468.4 1082.0 469.5 1083.0 470.5 C1084.0 471.5 1085.0 472.5 1086.0 473.5 C1087.0 474.5 1088.0 475.5 1089.0 476.5 C1090.0 477.5 1091.0 478.5 1092.0 479.4 C1093.0 480.4 1094.0 481.4 1095.0 482.4 C1096.0 483.3 1097.0 484.3 1098.0 485.3 C1099.0 486.2 1100.0 487.2 1101.0 488.1 C1102.0 489.0 1103.0 490.0 1104.0 490.9 C1105.0 491.8 1106.0 492.7 1107.0 493.7 C1108.0 494.6 1109.0 495.5 1110.0 496.4 C1111.0 497.3 1112.0 498.1 1113.0 499.0 C1114.0 499.9 1115.0 500.8 1116.0 501.7 C1117.0 502.5 1118.0 503.4 1119.0 504.2 C1120.0 505.1 1121.0 505.9 1122.0 506.7 C1123.0 507.6 1124.0 508.4 1125.0 509.2 C1126.0 510.0 1127.0 510.8 1128.0 511.6 C1129.0 512.4 1130.0 513.2 1131.0 514.0 C1132.0 514.8 1133.0 515.5 1134.0 516.3 C1135.0 517.1 1136.0 517.8 1137.0 518.6 C1138.0 519.3 1139.0 520.0 1140.0 520.8 C1141.0 521.5 1142.0 522.2 1143.0 522.9 C1144.0 523.6 1145.0 524.3 1146.0 525.0 C1147.0 525.7 1148.0 526.4 1149.0 527.1 C1150.0 527.8 1151.0 528.5 1152.0 529.2 C1153.0 529.9 1154.0 530.6 1155.0 531.3 C1156.0 532.0 1157.0 532.7 1158.0 533.5 C1159.0 534.2 1160.0 534.9 1161.0 535.7 C1162.0 536.4 1163.0 537.2 1164.0 538.0 C1165.0 538.8 1166.0 539.5 1167.0 540.4 C1168.0 541.2 1169.0 542.0 1170.0 542.9 C1171.0 543.7 1172.0 544.6 1173.0 545.5 C1174.0 546.4 1175.0 547.3 1176.0 548.3 C1177.0 549.3 1178.0 550.2 1179.0 551.3 C1180.0 552.3 1181.0 553.3 1182.0 554.4 C1183.0 555.5 1184.0 556.6 1185.0 557.8 C1186.0 558.9 1187.0 560.1 1188.0 561.4 C1189.0 562.6 1190.0 563.9 1191.0 565.2 C1192.0 566.5 1193.0 567.9 1194.0 569.3 C1195.0 570.7 1196.0 572.2 1197.0 573.7 C1198.0 575.2 1199.0 576.8 1200.0 578.4 C1201.0 580.0 1202.0 581.7 1203.0 583.4 C1204.0 585.2 1205.0 587.0 1206.0 588.8 C1207.0 590.6 1208.0 592.6 1209.0 594.5" stroke="#D95319"/>
</g>
<line x1="576.7" y1="660.0" x2="576.7" y2="1092.0" stroke="#262626" stroke-opacity="0.15" stroke-width="6.0"/>
<line x1="929.3" y1="660.0" x2="929.3" y2="1092.0" stroke="#262626" stroke-opacity="0.15" stroke-width="6.0"/>
<line x1="224.0" y1="768" x2="1282.0" y2="768" stroke="#262626" stroke-opacity="0.15" stroke-width="6.0"/>
<line x1="224.0" y1="876" x2="1282.0" y2="876" stroke="#262626" stroke-opacity="0.15" stroke-width="6.0"/>
<line x1="224.0" y1="984" x2="1282.0" y2="984" stroke="#262626" stroke-opacity="0.15" stroke-width="6.0"/>
<line x1="286.1" y1="1092.5" x2="286.1" y2="663.0" stroke="#262626" stroke-opacity="0.25" stroke-width="6.0" stroke-dasharray="9 23.17"/>
<line x1="330.2" y1="1092.5" x2="330.2" y2="663.0" stroke="#262626" stroke-opacity="0.25" stroke-width="6.0" stroke-dasharray="9 23.17"/>
<line x1="364.3" y1="1092.5" x2="364.3" y2="663.0" stroke="#262626" stroke-opacity="0.25" stroke-width="6.0" stroke-dasharray="9 23.17"/>
<line x1="392.3" y1="1092.5" x2="392.3" y2="663.0" stroke="#262626" stroke-opacity="0.25" stroke-width="6.0" stroke-dasharray="9 23.17"/>
<line x1="415.9" y1="1092.5" x2="415.9" y2="663.0" stroke="#262626" stroke-opacity="0.25" stroke-width="6.0" stroke-dasharray="9 23.17"/>
<line x1="436.3" y1="1092.5" x2="436.3" y2="663.0" stroke="#262626" stroke-opacity="0.25" stroke-width="6.0" stroke-dasharray="9 23.17"/>
<line x1="454.4" y1="1092.5" x2="454.4" y2="663.0" stroke="#262626" stroke-opacity="0.25" stroke-width="6.0" stroke-dasharray="9 23.17"/>
<line x1="576.7" y1="1092.5" x2="576.7" y2="663.0" stroke="#262626" stroke-opacity="0.25" stroke-width="6.0" stroke-dasharray="9 23.17"/>
<line x1="638.8" y1="1092.5" x2="638.8" y2="663.0" stroke="#262626" stroke-opacity="0.25" stroke-width="6.0" stroke-dasharray="9 23.17"/>
<line x1="682.8" y1="1092.5" x2="682.8" y2="663.0" stroke="#262626" stroke-opacity="0.25" stroke-width="6.0" stroke-dasharray="9 23.17"/>
<line x1="717" y1="1092.5" x2="717" y2="663.0" stroke="#262626" stroke-opacity="0.25" stroke-width="6.0" stroke-dasharray="9 23.17"/>
<line x1="744.9" y1="1092.5" x2="744.9" y2="663.0" stroke="#262626" stroke-opacity="0.25" stroke-width="6.0" stroke-dasharray="9 23.17"/>
<line x1="768.5" y1="1092.5" x2="768.5" y2="663.0" stroke="#262626" stroke-opacity="0.25" stroke-width="6.0" stroke-dasharray="9 23.17"/>
<line x1="789" y1="1092.5" x2="789" y2="663.0" stroke="#262626" stroke-opacity="0.25" stroke-width="6.0" stroke-dasharray="9 23.17"/>
<line x1="807" y1="1092.5" x2="807" y2="663.0" stroke="#262626" stroke-opacity="0.25" stroke-width="6.0" stroke-dasharray="9 23.17"/>
<line x1="929.3" y1="1092.5" x2="929.3" y2="663.0" stroke="#262626" stroke-opacity="0.25" stroke-width="6.0" stroke-dasharray="9 23.17"/>
<line x1="991.4" y1="1092.5" x2="991.4" y2="663.0" stroke="#262626" stroke-opacity="0.25" stroke-width="6.0" stroke-dasharray="9 23.17"/>
<line x1="1035.5" y1="1092.5" x2="1035.5" y2="663.0" stroke="#262626" stroke-opacity="0.25" stroke-width="6.0" stroke-dasharray="9 23.17"/>
<line x1="1069.7" y1="1092.5" x2="1069.7" y2="663.0" stroke="#262626" stroke-opacity="0.25" stroke-width="6.0" stroke-dasharray="9 23.17"/>
<line x1="1097.6" y1="1092.5" x2="1097.6" y2="663.0" stroke="#262626" stroke-opacity="0.25" stroke-width="6.0" stroke-dasharray="9 23.17"/>
<line x1="1121.2" y1="1092.5" x2="1121.2" y2="663.0" stroke="#262626" stroke-opacity="0.25" stroke-width="6.0" stroke-dasharray="9 23.17"/>
<line x1="1141.7" y1="1092.5" x2="1141.7" y2="663.0" stroke="#262626" stroke-opacity="0.25" stroke-width="6.0" stroke-dasharray="9 23.17"/>
<line x1="1159.7" y1="1092.5" x2="1159.7" y2="663.0" stroke="#262626" stroke-opacity="0.25" stroke-width="6.0" stroke-dasharray="9 23.17"/>
<line x1="224" y1="660.0" x2="224" y2="674.5" stroke="#262626" stroke-width="6.0"/>
<line x1="224" y1="1092.0" x2="224" y2="1077.5" stroke="#262626" stroke-width="6.0"/>
<line x1="330.2" y1="660.0" x2="330.2" y2="669.0" stroke="#262626" stroke-width="6.0"/>
<line x1="330.2" y1="1092.0" x2="330.2" y2="1083.0" stroke="#262626" stroke-width="6.0"/>
<line x1="392.3" y1="660.0" x2="392.3" y2="669.0" stroke="#262626" stroke-width="6.0"/>
<line x1="392.3" y1="1092.0" x2="392.3" y2="1083.0" stroke="#262626" stroke-width="6.0"/>
<line x1="436.3" y1="660.0" x2="436.3" y2="669.0" stroke="#262626" stroke-width="6.0"/>
<line x1="436.3" y1="1092.0" x2="436.3" y2="1083.0" stroke="#262626" stroke-width="6.0"/>
<line x1="470.5" y1="660.0" x2="470.5" y2="669.0" stroke="#262626" stroke-width="6.0"/>
<line x1="470.5" y1="1092.0" x2="470.5" y2="1083.0" stroke="#262626" stroke-width="6.0"/>
<line x1="498.4" y1="660.0" x2="498.4" y2="669.0" stroke="#262626" stroke-width="6.0"/>
<line x1="498.4" y1="1092.0" x2="498.4" y2="1083.0" stroke="#262626" stroke-width="6.0"/>
<line x1="522" y1="660.0" x2="522" y2="669.0" stroke="#262626" stroke-width="6.0"/>
<line x1="522" y1="1092.0" x2="522" y2="1083.0" stroke="#262626" stroke-width="6.0"/>
<line x1="542.5" y1="660.0" x2="542.5" y2="669.0" stroke="#262626" stroke-width="6.0"/>
<line x1="542.5" y1="1092.0" x2="542.5" y2="1083.0" stroke="#262626" stroke-width="6.0"/>
<line x1="560.5" y1="660.0" x2="560.5" y2="669.0" stroke="#262626" stroke-width="6.0"/>
<line x1="560.5" y1="1092.0" x2="560.5" y2="1083.0" stroke="#262626" stroke-width="6.0"/>
<line x1="576.7" y1="660.0" x2="576.7" y2="674.5" stroke="#262626" stroke-width="6.0"/>
<line x1="576.7" y1="1092.0" x2="576.7" y2="1077.5" stroke="#262626" stroke-width="6.0"/>
<line x1="682.8" y1="660.0" x2="682.8" y2="669.0" stroke="#262626" stroke-width="6.0"/>
<line x1="682.8" y1="1092.0" x2="682.8" y2="1083.0" stroke="#262626" stroke-width="6.0"/>
<line x1="744.9" y1="660.0" x2="744.9" y2="669.0" stroke="#262626" stroke-width="6.0"/>
<line x1="744.9" y1="1092.0" x2="744.9" y2="1083.0" stroke="#262626" stroke-width="6.0"/>
<line x1="789" y1="660.0" x2="789" y2="669.0" stroke="#262626" stroke-width="6.0"/>
<line x1="789" y1="1092.0" x2="789" y2="1083.0" stroke="#262626" stroke-width="6.0"/>
<line x1="823.2" y1="660.0" x2="823.2" y2="669.0" stroke="#262626" stroke-width="6.0"/>
<line x1="823.2" y1="1092.0" x2="823.2" y2="1083.0" stroke="#262626" stroke-width="6.0"/>
<line x1="851.1" y1="660.0" x2="851.1" y2="669.0" stroke="#262626" stroke-width="6.0"/>
<line x1="851.1" y1="1092.0" x2="851.1" y2="1083.0" stroke="#262626" stroke-width="6.0"/>
<line x1="874.7" y1="660.0" x2="874.7" y2="669.0" stroke="#262626" stroke-width="6.0"/>
<line x1="874.7" y1="1092.0" x2="874.7" y2="1083.0" stroke="#262626" stroke-width="6.0"/>
<line x1="895.2" y1="660.0" x2="895.2" y2="669.0" stroke="#262626" stroke-width="6.0"/>
<line x1="895.2" y1="1092.0" x2="895.2" y2="1083.0" stroke="#262626" stroke-width="6.0"/>
<line x1="913.2" y1="660.0" x2="913.2" y2="669.0" stroke="#262626" stroke-width="6.0"/>
<line x1="913.2" y1="1092.0" x2="913.2" y2="1083.0" stroke="#262626" stroke-width="6.0"/>
<line x1="929.3" y1="660.0" x2="929.3" y2="674.5" stroke="#262626" stroke-width="6.0"/>
<line x1="929.3" y1="1092.0" x2="929.3" y2="1077.5" stroke="#262626" stroke-width="6.0"/>
<line x1="1035.5" y1="660.0" x2="1035.5" y2="669.0" stroke="#262626" stroke-width="6.0"/>
<line x1="1035.5" y1="1092.0" x2="1035.5" y2="1083.0" stroke="#262626" stroke-width="6.0"/>
<line x1="1097.6" y1="660.0" x2="1097.6" y2="669.0" stroke="#262626" stroke-width="6.0"/>
<line x1="1097.6" y1="1092.0" x2="1097.6" y2="1083.0" stroke="#262626" stroke-width="6.0"/>
<line x1="1141.7" y1="660.0" x2="1141.7" y2="669.0" stroke="#262626" stroke-width="6.0"/>
<line x1="1141.7" y1="1092.0" x2="1141.7" y2="1083.0" stroke="#262626" stroke-width="6.0"/>
<line x1="1175.8" y1="660.0" x2="1175.8" y2="669.0" stroke="#262626" stroke-width="6.0"/>
<line x1="1175.8" y1="1092.0" x2="1175.8" y2="1083.0" stroke="#262626" stroke-width="6.0"/>
<line x1="1203.8" y1="660.0" x2="1203.8" y2="669.0" stroke="#262626" stroke-width="6.0"/>
<line x1="1203.8" y1="1092.0" x2="1203.8" y2="1083.0" stroke="#262626" stroke-width="6.0"/>
<line x1="1227.4" y1="660.0" x2="1227.4" y2="669.0" stroke="#262626" stroke-width="6.0"/>
<line x1="1227.4" y1="1092.0" x2="1227.4" y2="1083.0" stroke="#262626" stroke-width="6.0"/>
<line x1="1247.8" y1="660.0" x2="1247.8" y2="669.0" stroke="#262626" stroke-width="6.0"/>
<line x1="1247.8" y1="1092.0" x2="1247.8" y2="1083.0" stroke="#262626" stroke-width="6.0"/>
<line x1="1265.9" y1="660.0" x2="1265.9" y2="669.0" stroke="#262626" stroke-width="6.0"/>
<line x1="1265.9" y1="1092.0" x2="1265.9" y2="1083.0" stroke="#262626" stroke-width="6.0"/>
<line x1="1282" y1="660.0" x2="1282" y2="674.5" stroke="#262626" stroke-width="6.0"/>
<line x1="1282" y1="1092.0" x2="1282" y2="1077.5" stroke="#262626" stroke-width="6.0"/>
<line x1="224.0" y1="768" x2="238.5" y2="768" stroke="#262626" stroke-width="6.0"/>
<line x1="1282.0" y1="768" x2="1267.5" y2="768" stroke="#262626" stroke-width="6.0"/>
<line x1="224.0" y1="876" x2="238.5" y2="876" stroke="#262626" stroke-width="6.0"/>
<line x1="1282.0" y1="876" x2="1267.5" y2="876" stroke="#262626" stroke-width="6.0"/>
<line x1="224.0" y1="984" x2="238.5" y2="984" stroke="#262626" stroke-width="6.0"/>
<line x1="1282.0" y1="984" x2="1267.5" y2="984" stroke="#262626" stroke-width="6.0"/>
<rect x="224.0" y="660.0" width="1058.0" height="432.0" fill="none" stroke="#262626" stroke-width="6.0" stroke-linejoin="miter" stroke-linecap="square"/>
<g clip-path="url(#c2)" fill="none" stroke-width="6.0" stroke-linejoin="miter" stroke-miterlimit="6">
<path d="M224.0 771.5 C225.0 771.5 226.0 771.6 227.0 771.6 C228.0 771.7 229.0 771.7 230.0 771.8 C231.0 771.8 232.0 771.8 233.0 771.9 C234.0 771.9 235.0 772.0 236.0 772.0 C237.0 772.1 238.0 772.1 239.0 772.1 C240.1 772.2 241.1 772.2 242.1 772.2 C243.1 772.3 244.1 772.3 245.1 772.4 C246.1 772.4 247.1 772.4 248.1 772.5 C249.1 772.5 250.1 772.5 251.1 772.6 C252.1 772.6 253.1 772.6 254.1 772.7 C255.1 772.7 256.1 772.7 257.1 772.8 C258.1 772.8 259.1 772.8 260.1 772.8 C261.1 772.9 262.1 772.9 263.1 772.9 C264.1 773.0 265.1 773.0 266.1 773.0 C267.1 773.0 268.1 773.1 269.1 773.1 C270.2 773.1 271.2 773.1 272.2 773.2 C273.2 773.2 274.2 773.2 275.2 773.2 C276.2 773.3 277.2 773.3 278.2 773.3 C279.2 773.3 280.2 773.4 281.2 773.4 C282.2 773.4 283.2 773.4 284.2 773.4 C285.2 773.5 286.2 773.5 287.2 773.5 C288.2 773.5 289.2 773.5 290.2 773.6 C291.2 773.6 292.2 773.6 293.2 773.6 C294.2 773.6 295.2 773.7 296.2 773.7 C297.2 773.7 298.2 773.7 299.2 773.7 C300.3 773.7 301.3 773.8 302.3 773.8 C303.3 773.8 304.3 773.8 305.3 773.8 C306.3 773.8 307.3 773.9 308.3 773.9 C309.3 773.9 310.3 773.9 311.3 773.9 C312.3 773.9 313.3 774.0 314.3 774.0 C315.3 774.0 316.3 774.0 317.3 774.0 C318.3 774.0 319.3 774.0 320.3 774.1 C321.3 774.1 322.3 774.1 323.3 774.1 C324.3 774.1 325.3 774.1 326.3 774.1 C327.3 774.1 328.3 774.2 329.3 774.2 C330.3 774.2 331.4 774.2 332.4 774.2 C333.4 774.2 334.4 774.2 335.4 774.2 C336.4 774.3 337.4 774.3 338.4 774.3 C339.4 774.3 340.4 774.3 341.4 774.3 C342.4 774.3 343.4 774.3 344.4 774.4 C345.4 774.4 346.4 774.4 347.4 774.4 C348.4 774.4 349.4 774.4 350.4 774.4 C351.4 774.4 352.4 774.5 353.4 774.5 C354.4 774.5 355.4 774.5 356.4 774.5 C357.4 774.5 358.4 774.5 359.4 774.5 C360.4 774.5 361.5 774.6 362.5 774.6 C363.5 774.6 364.5 774.6 365.5 774.6 C366.5 774.6 367.5 774.6 368.5 774.6 C369.5 774.7 370.5 774.7 371.5 774.7 C372.5 774.7 373.5 774.7 374.5 774.7 C375.5 774.7 376.5 774.8 377.5 774.8 C378.5 774.8 379.5 774.8 380.5 774.8 C381.5 774.8 382.5 774.8 383.5 774.8 C384.5 774.9 385.5 774.9 386.5 774.9 C387.5 774.9 388.5 774.9 389.5 774.9 C390.5 775.0 391.6 775.0 392.6 775.0 C393.6 775.0 394.6 775.0 395.6 775.0 C396.6 775.1 397.6 775.1 398.6 775.1 C399.6 775.1 400.6 775.1 401.6 775.1 C402.6 775.2 403.6 775.2 404.6 775.2 C405.6 775.2 406.6 775.2 407.6 775.2 C408.6 775.3 409.6 775.3 410.6 775.3 C411.6 775.3 412.6 775.3 413.6 775.4 C414.6 775.4 415.6 775.4 416.6 775.4 C417.6 775.5 418.6 775.5 419.6 775.5 C420.6 775.5 421.6 775.5 422.7 775.6 C423.7 775.6 424.7 775.6 425.7 775.6 C426.7 775.7 427.7 775.7 428.7 775.7 C429.7 775.7 430.7 775.8 431.7 775.8 C432.7 775.8 433.7 775.8 434.7 775.9 C435.7 775.9 436.7 775.9 437.7 776.0 C438.7 776.0 439.7 776.0 440.7 776.0 C441.7 776.1 442.7 776.1 443.7 776.1 C444.7 776.2 445.7 776.2 446.7 776.2 C447.7 776.3 448.7 776.3 449.7 776.3 C450.7 776.4 451.7 776.4 452.8 776.4 C453.8 776.5 454.8 776.5 455.8 776.5 C456.8 776.6 457.8 776.6 458.8 776.7 C459.8 776.7 460.8 776.7 461.8 776.8 C462.8 776.8 463.8 776.9 464.8 776.9 C465.8 776.9 466.8 777.0 467.8 777.0 C468.8 777.1 469.8 777.1 470.8 777.2 C471.8 777.2 472.8 777.2 473.8 777.3 C474.8 777.3 475.8 777.4 476.8 777.4 C477.8 777.5 478.8 777.5 479.8 777.6 C480.8 777.6 481.8 777.7 482.9 777.7 C483.9 777.8 484.9 777.8 485.9 777.9 C486.9 777.9 487.9 778.0 488.9 778.0 C489.9 778.1 490.9 778.2 491.9 778.2 C492.9 778.3 493.9 778.3 494.9 778.4 C495.9 778.4 496.9 778.5 497.9 778.6 C498.9 778.6 499.9 778.7 500.9 778.7 C501.9 778.8 502.9 778.9 503.9 778.9 C504.9 779.0 505.9 779.1 506.9 779.1 C507.9 779.2 508.9 779.3 509.9 779.3 C510.9 779.4 511.9 779.5 512.9 779.5 C514.0 779.6 515.0 779.7 516.0 779.8 C517.0 779.8 518.0 779.9 519.0 780.0 C520.0 780.0 521.0 780.1 522.0 780.2 C523.0 780.3 524.0 780.4 525.0 780.4 C526.0 780.5 527.0 780.6 528.0 780.7 C529.0 780.8 530.0 780.8 531.0 780.9 C532.0 781.0 533.0 781.1 534.0 781.2 C535.0 781.3 536.0 781.4 537.0 781.4 C538.0 781.5 539.0 781.6 540.0 781.7 C541.0 781.8 542.0 781.9 543.0 782.0 C544.1 782.1 545.1 782.2 546.1 782.3 C547.1 782.4 548.1 782.5 549.1 782.6 C550.1 782.7 551.1 782.8 552.1 782.9 C553.1 783.0 554.1 783.1 555.1 783.2 C556.1 783.3 557.1 783.4 558.1 783.5 C559.1 783.6 560.1 783.7 561.1 783.8 C562.1 783.9 563.1 784.1 564.1 784.2 C565.1 784.3 566.1 784.4 567.1 784.5 C568.1 784.6 569.1 784.7 570.1 784.9 C571.1 785.0 572.1 785.1 573.1 785.2 C574.1 785.4 575.2 785.5 576.2 785.6 C577.2 785.7 578.2 785.9 579.2 786.0 C580.2 786.1 581.2 786.2 582.2 786.4 C583.2 786.5 584.2 786.6 585.2 786.8 C586.2 786.9 587.2 787.0 588.2 787.2 C589.2 787.3 590.2 787.4 591.2 787.6 C592.2 787.7 593.2 787.9 594.2 788.0 C595.2 788.2 596.2 788.3 597.2 788.4 C598.2 788.6 599.2 788.7 600.2 788.9 C601.2 789.0 602.2 789.2 603.2 789.3 C604.2 789.5 605.3 789.7 606.3 789.8 C607.3 790.0 608.3 790.1 609.3 790.3 C610.3 790.4 611.3 790.6 612.3 790.8 C613.3 790.9 614.3 791.1 615.3 791.3 C616.3 791.4 617.3 791.6 618.3 791.8 C619.3 791.9 620.3 792.1 621.3 792.3 C622.3 792.5 623.3 792.6 624.3 792.8 C625.3 793.0 626.3 793.2 627.3 793.4 C628.3 793.5 629.3 793.7 630.3 793.9 C631.3 794.1 632.3 794.3 633.3 794.5 C634.3 794.7 635.4 794.9 636.4 795.0 C637.4 795.2 638.4 795.4 639.4 795.6 C640.4 795.8 641.4 796.0 642.4 796.2 C643.4 796.4 644.4 796.6 645.4 796.8 C646.4 797.0 647.4 797.2 648.4 797.5 C649.4 797.7 650.4 797.9 651.4 798.1 C652.4 798.3 653.4 798.5 654.4 798.7 C655.4 798.9 656.4 799.2 657.4 799.4 C658.4 799.6 659.4 799.8 660.4 800.0 C661.4 800.3 662.4 800.5 663.4 800.7 C664.4 801.0 665.4 801.2 666.5 801.4 C667.5 801.7 668.5 801.9 669.5 802.1 C670.5 802.4 671.5 802.6 672.5 802.8 C673.5 803.1 674.5 803.3 675.5 803.6 C676.5 803.8 677.5 804.1 678.5 804.3 C679.5 804.6 680.5 804.8 681.5 805.1 C682.5 805.3 683.5 805.6 684.5 805.8 C685.5 806.1 686.5 806.4 687.5 806.6 C688.5 806.9 689.5 807.2 690.5 807.4 C691.5 807.7 692.5 808.0 693.5 808.2 C694.5 808.5 695.5 808.8 696.6 809.1 C697.6 809.3 698.6 809.6 699.6 809.9 C700.6 810.2 701.6 810.5 702.6 810.7 C703.6 811.0 704.6 811.3 705.6 811.6 C706.6 811.9 707.6 812.2 708.6 812.5 C709.6 812.8 710.6 813.1 711.6 813.4 C712.6 813.7 713.6 814.0 714.6 814.3 C715.6 814.6 716.6 814.9 717.6 815.2 C718.6 815.5 719.6 815.8 720.6 816.1 C721.6 816.5 722.6 816.8 723.6 817.1 C724.6 817.4 725.6 817.7 726.7 818.1 C727.7 818.4 728.7 818.7 729.7 819.0 C730.7 819.4 731.7 819.7 732.7 820.0 C733.7 820.4 734.7 820.7 735.7 821.0 C736.7 821.4 737.7 821.7 738.7 822.1 C739.7 822.4 740.3 822.8 741.7 823.1 C744.6 823.8 750.9 825.8 755.4 825.1 C760.1 824.3 765.2 821.3 769.1 818.2 C773.0 815.1 775.9 809.8 778.9 806.5 C781.3 803.9 783.6 799.7 785.7 799.7 C787.5 799.7 789.2 802.1 790.6 804.5 C793.2 808.9 794.6 818.6 796.5 826.1 C798.5 834.2 800.2 844.1 802.4 851.5 C804.2 857.4 805.6 863.0 808.2 867.1 C810.4 870.5 813.2 873.8 816.1 875.0 C818.5 876.0 821.4 874.2 823.9 875.0 C826.7 875.9 829.6 878.0 831.7 880.8 C834.5 884.5 836.0 890.7 837.6 896.5 C839.5 903.4 840.2 911.9 841.5 919.9 C842.8 928.2 843.9 939.2 845.4 945.4 C846.3 949.1 847.0 954.1 848.3 954.2 C849.6 954.3 851.6 948.7 853.2 945.4 C855.2 941.4 856.6 935.2 859.1 931.7 C861.1 928.9 863.8 925.6 866.3 925.3 C868.7 925.0 872.0 928.0 873.9 929.5 C875.3 930.6 875.9 931.8 876.9 932.9 C878.0 934.1 879.0 935.2 880.0 936.3 C881.0 937.5 882.0 938.6 883.0 939.7 C884.0 940.9 885.0 942.0 886.1 943.1 C887.1 944.2 888.1 945.3 889.1 946.5 C890.1 947.6 891.1 948.7 892.1 949.8 C893.1 950.9 894.2 952.0 895.2 953.1 C896.2 954.2 897.2 955.3 898.2 956.4 C899.2 957.5 900.2 958.6 901.3 959.6 C902.3 960.7 903.3 961.8 904.3 962.8 C905.3 963.9 906.3 965.0 907.3 966.0 C908.3 967.1 909.4 968.1 910.4 969.1 C911.4 970.2 912.4 971.2 913.4 972.2 C914.4 973.2 915.4 974.2 916.5 975.2 C917.5 976.2 918.5 977.2 919.5 978.2 C920.5 979.2 921.5 980.2 922.5 981.1 C923.5 982.1 924.6 983.0 925.6 984.0 C926.6 984.9 927.6 985.9 928.6 986.8 C929.6 987.7 930.6 988.6 931.7 989.5 C932.7 990.4 933.7 991.3 934.7 992.1 C935.7 993.0 936.7 993.9 937.7 994.7 C938.7 995.6 939.8 996.4 940.8 997.3 C941.8 998.1 942.8 998.9 943.8 999.8 C944.8 1000.6 945.8 1001.4 946.9 1002.2 C947.9 1003.0 948.9 1003.8 949.9 1004.6 C950.9 1005.4 951.9 1006.2 952.9 1006.9 C953.9 1007.7 955.0 1008.5 956.0 1009.2 C957.0 1010.0 958.0 1010.8 959.0 1011.5 C960.0 1012.3 961.0 1013.0 962.0 1013.8 C963.1 1014.5 964.1 1015.2 965.1 1016.0 C966.1 1016.7 967.1 1017.4 968.1 1018.2 C969.1 1018.9 970.2 1019.6 971.2 1020.3 C972.2 1021.1 973.2 1021.8 974.2 1022.5 C975.2 1023.2 976.2 1023.9 977.2 1024.6 C978.3 1025.3 979.3 1026.1 980.3 1026.8 C981.3 1027.5 982.3 1028.2 983.3 1028.9 C984.3 1029.6 985.4 1030.3 986.4 1031.0 C987.4 1031.7 988.4 1032.4 989.4 1033.1 C990.4 1033.9 991.4 1034.6 992.4 1035.3 C993.5 1036.0 994.5 1036.7 995.5 1037.4 C996.5 1038.2 997.5 1038.9 998.5 1039.6 C999.5 1040.3 1000.6 1041.0 1001.6 1041.8 C1002.6 1042.5 1003.6 1043.2 1004.6 1044.0 C1005.6 1044.7 1006.6 1045.5 1007.6 1046.2 C1008.7 1046.9 1009.7 1047.7 1010.7 1048.5 C1011.7 1049.2 1012.7 1050.0 1013.7 1050.7 C1014.7 1051.5 1015.8 1052.3 1016.8 1053.1 C1017.8 1053.8 1018.8 1054.6 1019.8 1055.4 C1020.8 1056.2 1021.8 1057.0 1022.8 1057.8 C1023.9 1058.6 1024.9 1059.5 1025.9 1060.3 C1026.9 1061.1 1027.9 1062.0 1028.9 1062.8 C1029.9 1063.6 1030.9 1064.5 1032.0 1065.4 C1033.0 1066.2 1034.0 1067.1 1035.0 1068.0 L1042.5 683.7 C1043.5 684.4 1044.5 685.0 1045.5 685.7 C1046.5 686.3 1047.6 686.9 1048.6 687.5 C1049.6 688.1 1050.6 688.8 1051.6 689.4 C1052.6 690.0 1053.6 690.5 1054.6 691.1 C1055.6 691.7 1056.6 692.3 1057.7 692.9 C1058.7 693.4 1059.7 694.0 1060.7 694.6 C1061.7 695.1 1062.7 695.7 1063.7 696.3 C1064.7 696.8 1065.7 697.4 1066.8 697.9 C1067.8 698.5 1068.8 699.0 1069.8 699.5 C1070.8 700.1 1071.8 700.6 1072.8 701.2 C1073.8 701.7 1074.8 702.3 1075.8 702.8 C1076.9 703.4 1077.9 703.9 1078.9 704.4 C1079.9 705.0 1080.9 705.5 1081.9 706.1 C1082.9 706.6 1083.9 707.2 1084.9 707.7 C1085.9 708.3 1087.0 708.9 1088.0 709.4 C1089.0 710.0 1090.0 710.6 1091.0 711.1 C1092.0 711.7 1093.0 712.3 1094.0 712.9 C1095.0 713.5 1096.1 714.1 1097.1 714.7 C1098.1 715.3 1099.1 715.9 1100.1 716.5 C1101.1 717.1 1102.1 717.7 1103.1 718.4 C1104.1 719.0 1105.1 719.7 1106.2 720.3 C1107.2 721.0 1108.2 721.6 1109.2 722.3 C1110.2 723.0 1111.2 723.7 1112.2 724.4 C1113.2 725.1 1114.2 725.8 1115.2 726.6 C1116.3 727.3 1117.3 728.0 1118.3 728.8 C1119.3 729.6 1120.3 730.3 1121.3 731.1 C1122.3 731.9 1123.3 732.7 1124.3 733.6 C1125.4 734.4 1126.4 735.2 1127.4 736.1 C1128.4 737.0 1129.4 737.8 1130.4 738.7 C1131.4 739.6 1132.4 740.5 1133.4 741.5 C1134.5 742.4 1135.5 743.4 1136.5 744.3 C1137.5 745.3 1138.5 746.3 1139.5 747.3 C1140.5 748.4 1141.5 749.4 1142.5 750.5 C1143.5 751.6 1144.6 752.6 1145.6 753.8 C1146.6 754.9 1147.6 756.0 1148.6 757.2 C1149.6 758.3 1150.6 759.5 1151.6 760.7 C1152.6 762.0 1153.7 763.2 1154.7 764.5 C1155.7 765.7 1156.7 767.0 1157.7 768.3 C1158.7 769.7 1159.7 771.0 1160.7 772.4 C1161.7 773.8 1162.7 775.2 1163.8 776.6 C1164.8 778.1 1165.8 779.6 1166.8 781.1 C1167.8 782.6 1168.8 784.1 1169.8 785.7 C1170.8 787.2 1171.8 788.8 1172.8 790.5 C1173.9 792.1 1174.9 793.8 1175.9 795.5 C1176.9 797.2 1177.9 798.9 1178.9 800.7 C1179.9 802.5 1180.9 804.3 1181.9 806.1 C1183.0 808.0 1184.0 809.8 1185.0 811.7 C1186.0 813.7 1187.0 815.6 1188.0 817.6 C1189.0 819.5 1190.0 821.5 1191.0 823.5 C1192.0 825.6 1193.1 827.6 1194.1 829.7 C1195.1 831.7 1196.1 833.8 1197.1 835.9 C1198.1 838.0 1199.1 840.1 1200.1 842.2 C1201.1 844.3 1202.1 846.4 1203.2 848.6 C1204.2 850.7 1205.2 852.8 1206.2 855.0 C1207.2 857.1 1208.2 859.2 1209.2 861.4 C1210.2 863.5 1211.2 865.6 1212.2 867.7 C1213.3 869.8 1214.3 871.9 1215.3 874.0 C1216.3 876.1 1217.3 878.2 1218.3 880.3 C1219.3 882.3 1220.3 884.3 1221.3 886.4 C1222.3 888.4 1223.4 890.4 1224.4 892.3 C1225.4 894.3 1226.4 896.2 1227.4 898.2 C1228.4 900.1 1229.4 901.9 1230.4 903.8 C1231.4 905.6 1232.4 907.4 1233.5 909.2 C1234.5 910.9 1235.5 912.7 1236.5 914.4 C1237.5 916.0 1238.5 917.7 1239.5 919.3 C1240.5 920.8 1241.5 922.4 1242.6 923.9 C1243.6 925.3 1244.6 926.7 1245.6 928.1 C1246.6 929.5 1247.6 930.8 1248.6 932.1 C1249.6 933.4 1250.6 934.7 1251.7 935.9 C1252.7 937.1 1253.7 938.2 1254.7 939.4 C1255.7 940.5 1256.7 941.6 1257.7 942.7 C1258.7 943.7 1259.7 944.8 1260.8 945.8 C1261.8 946.8 1262.8 947.8 1263.8 948.7 C1264.8 949.7 1265.8 950.6 1266.8 951.5 C1267.8 952.4 1268.8 953.3 1269.8 954.2 C1270.9 955.0 1271.9 955.9 1272.9 956.7 C1273.9 957.6 1274.9 958.4 1275.9 959.2 C1276.9 960.0 1277.9 960.8 1278.9 961.6 C1279.9 962.5 1281.0 963.2 1282.0 964.0 C1283.0 964.8 1284.0 965.6 1285.0 966.4" stroke="#0072BD"/>
<path d="M224.0 728.9 C225.0 729.0 226.0 729.0 227.0 729.1 C228.0 729.1 229.0 729.2 230.0 729.2 C231.0 729.3 232.0 729.3 233.0 729.4 C234.0 729.4 235.0 729.5 236.0 729.5 C237.0 729.6 238.0 729.6 239.0 729.7 C240.1 729.7 241.1 729.7 242.1 729.8 C243.1 729.8 244.1 729.9 245.1 729.9 C246.1 730.0 247.1 730.0 248.1 730.0 C249.1 730.1 250.1 730.1 251.1 730.1 C252.1 730.2 253.1 730.2 254.1 730.2 C255.1 730.3 256.1 730.3 257.1 730.4 C258.1 730.4 259.1 730.4 260.1 730.5 C261.1 730.5 262.1 730.5 263.1 730.5 C264.1 730.6 265.1 730.6 266.1 730.6 C267.1 730.7 268.1 730.7 269.1 730.7 C270.2 730.7 271.2 730.8 272.2 730.8 C273.2 730.8 274.2 730.9 275.2 730.9 C276.2 730.9 277.2 730.9 278.2 731.0 C279.2 731.0 280.2 731.0 281.2 731.0 C282.2 731.0 283.2 731.1 284.2 731.1 C285.2 731.1 286.2 731.1 287.2 731.2 C288.2 731.2 289.2 731.2 290.2 731.2 C291.2 731.2 292.2 731.3 293.2 731.3 C294.2 731.3 295.2 731.3 296.2 731.3 C297.2 731.3 298.2 731.4 299.2 731.4 C300.3 731.4 301.3 731.4 302.3 731.4 C303.3 731.4 304.3 731.5 305.3 731.5 C306.3 731.5 307.3 731.5 308.3 731.5 C309.3 731.5 310.3 731.5 311.3 731.6 C312.3 731.6 313.3 731.6 314.3 731.6 C315.3 731.6 316.3 731.6 317.3 731.6 C318.3 731.6 319.3 731.7 320.3 731.7 C321.3 731.7 322.3 731.7 323.3 731.7 C324.3 731.7 325.3 731.7 326.3 731.7 C327.3 731.7 328.3 731.8 329.3 731.8 C330.3 731.8 331.4 731.8 332.4 731.8 C333.4 731.8 334.4 731.8 335.4 731.8 C336.4 731.8 337.4 731.8 338.4 731.8 C339.4 731.9 340.4 731.9 341.4 731.9 C342.4 731.9 343.4 731.9 344.4 731.9 C345.4 731.9 346.4 731.9 347.4 731.9 C348.4 731.9 349.4 731.9 350.4 731.9 C351.4 731.9 352.4 732.0 353.4 732.0 C354.4 732.0 355.4 732.0 356.4 732.0 C357.4 732.0 358.4 732.0 359.4 732.0 C360.4 732.0 361.5 732.0 362.5 732.0 C363.5 732.0 364.5 732.0 365.5 732.1 C366.5 732.1 367.5 732.1 368.5 732.1 C369.5 732.1 370.5 732.1 371.5 732.1 C372.5 732.1 373.5 732.1 374.5 732.1 C375.5 732.1 376.5 732.1 377.5 732.1 C378.5 732.2 379.5 732.2 380.5 732.2 C381.5 732.2 382.5 732.2 383.5 732.2 C384.5 732.2 385.5 732.2 386.5 732.2 C387.5 732.2 388.5 732.2 389.5 732.3 C390.5 732.3 391.6 732.3 392.6 732.3 C393.6 732.3 394.6 732.3 395.6 732.3 C396.6 732.3 397.6 732.3 398.6 732.3 C399.6 732.4 400.6 732.4 401.6 732.4 C402.6 732.4 403.6 732.4 404.6 732.4 C405.6 732.4 406.6 732.4 407.6 732.4 C408.6 732.5 409.6 732.5 410.6 732.5 C411.6 732.5 412.6 732.5 413.6 732.5 C414.6 732.5 415.6 732.6 416.6 732.6 C417.6 732.6 418.6 732.6 419.6 732.6 C420.6 732.6 421.6 732.7 422.7 732.7 C423.7 732.7 424.7 732.7 425.7 732.7 C426.7 732.7 427.7 732.8 428.7 732.8 C429.7 732.8 430.7 732.8 431.7 732.8 C432.7 732.9 433.7 732.9 434.7 732.9 C435.7 732.9 436.7 732.9 437.7 733.0 C438.7 733.0 439.7 733.0 440.7 733.0 C441.7 733.1 442.7 733.1 443.7 733.1 C444.7 733.1 445.7 733.2 446.7 733.2 C447.7 733.2 448.7 733.2 449.7 733.3 C450.7 733.3 451.7 733.3 452.8 733.3 C453.8 733.4 454.8 733.4 455.8 733.4 C456.8 733.5 457.8 733.5 458.8 733.5 C459.8 733.5 460.8 733.6 461.8 733.6 C462.8 733.6 463.8 733.7 464.8 733.7 C465.8 733.7 466.8 733.8 467.8 733.8 C468.8 733.9 469.8 733.9 470.8 733.9 C471.8 734.0 472.8 734.0 473.8 734.0 C474.8 734.1 475.8 734.1 476.8 734.2 C477.8 734.2 478.8 734.2 479.8 734.3 C480.8 734.3 481.8 734.4 482.9 734.4 C483.9 734.5 484.9 734.5 485.9 734.5 C486.9 734.6 487.9 734.6 488.9 734.7 C489.9 734.7 490.9 734.8 491.9 734.8 C492.9 734.9 493.9 734.9 494.9 735.0 C495.9 735.0 496.9 735.1 497.9 735.1 C498.9 735.2 499.9 735.3 500.9 735.3 C501.9 735.4 502.9 735.4 503.9 735.5 C504.9 735.5 505.9 735.6 506.9 735.7 C507.9 735.7 508.9 735.8 509.9 735.8 C510.9 735.9 511.9 736.0 512.9 736.0 C514.0 736.1 515.0 736.2 516.0 736.2 C517.0 736.3 518.0 736.4 519.0 736.4 C520.0 736.5 521.0 736.6 522.0 736.6 C523.0 736.7 524.0 736.8 525.0 736.9 C526.0 736.9 527.0 737.0 528.0 737.1 C529.0 737.2 530.0 737.2 531.0 737.3 C532.0 737.4 533.0 737.5 534.0 737.6 C535.0 737.6 536.0 737.7 537.0 737.8 C538.0 737.9 539.0 738.0 540.0 738.1 C541.0 738.1 542.0 738.2 543.0 738.3 C544.1 738.4 545.1 738.5 546.1 738.6 C547.1 738.7 548.1 738.8 549.1 738.9 C550.1 739.0 551.1 739.1 552.1 739.2 C553.1 739.3 554.1 739.4 555.1 739.5 C556.1 739.6 557.1 739.7 558.1 739.8 C559.1 739.9 560.1 740.0 561.1 740.1 C562.1 740.2 563.1 740.3 564.1 740.4 C565.1 740.5 566.1 740.6 567.1 740.7 C568.1 740.9 569.1 741.0 570.1 741.1 C571.1 741.2 572.1 741.3 573.1 741.4 C574.1 741.5 575.2 741.7 576.2 741.8 C577.2 741.9 578.2 742.0 579.2 742.2 C580.2 742.3 581.2 742.4 582.2 742.5 C583.2 742.7 584.2 742.8 585.2 742.9 C586.2 743.1 587.2 743.2 588.2 743.3 C589.2 743.5 590.2 743.6 591.2 743.7 C592.2 743.9 593.2 744.0 594.2 744.2 C595.2 744.3 596.2 744.4 597.2 744.6 C598.2 744.7 599.2 744.9 600.2 745.0 C601.2 745.2 602.2 745.3 603.2 745.5 C604.2 745.6 605.3 745.8 606.3 745.9 C607.3 746.1 608.3 746.3 609.3 746.4 C610.3 746.6 611.3 746.7 612.3 746.9 C613.3 747.1 614.3 747.2 615.3 747.4 C616.3 747.6 617.3 747.7 618.3 747.9 C619.3 748.1 620.3 748.2 621.3 748.4 C622.3 748.6 623.3 748.8 624.3 748.9 C625.3 749.1 626.3 749.3 627.3 749.5 C628.3 749.7 629.3 749.8 630.3 750.0 C631.3 750.2 632.3 750.4 633.3 750.6 C634.3 750.8 635.4 751.0 636.4 751.2 C637.4 751.4 638.4 751.6 639.4 751.8 C640.4 752.0 641.4 752.2 642.4 752.4 C643.4 752.6 644.4 752.8 645.4 753.0 C646.4 753.2 647.4 753.4 648.4 753.6 C649.4 753.8 650.4 754.0 651.4 754.2 C652.4 754.5 653.4 754.7 654.4 754.9 C655.4 755.1 656.4 755.3 657.4 755.6 C658.4 755.8 659.4 756.0 660.4 756.2 C661.4 756.5 662.4 756.7 663.4 756.9 C664.4 757.2 665.4 757.4 666.5 757.6 C667.5 757.9 668.5 758.1 669.5 758.4 C670.5 758.6 671.5 758.8 672.5 759.1 C673.5 759.3 674.5 759.6 675.5 759.8 C676.5 760.1 677.5 760.3 678.5 760.6 C679.5 760.8 680.5 761.1 681.5 761.4 C682.5 761.6 683.5 761.9 684.5 762.2 C685.5 762.4 686.5 762.7 687.5 763.0 C688.5 763.2 689.5 763.5 690.5 763.8 C691.5 764.0 692.5 764.3 693.5 764.6 C694.5 764.9 695.5 765.2 696.6 765.5 C697.6 765.7 698.6 766.0 699.6 766.3 C700.6 766.6 701.6 766.9 702.6 767.2 C703.6 767.5 704.6 767.8 705.6 768.1 C706.6 768.4 707.6 768.7 708.6 769.0 C709.6 769.3 710.6 769.6 711.6 769.9 C712.6 770.2 713.6 770.5 714.6 770.8 C715.6 771.2 716.6 771.5 717.6 771.8 C718.6 772.1 719.6 772.4 720.6 772.8 C721.6 773.1 722.6 773.4 723.6 773.8 C724.6 774.1 725.6 774.4 726.7 774.8 C727.7 775.1 728.7 775.4 729.7 775.8 C730.7 776.1 731.7 776.5 732.7 776.8 C733.7 777.2 734.7 777.5 735.7 777.9 C736.7 778.2 737.7 778.6 738.7 778.9 C739.7 779.3 740.3 779.7 741.7 780.0 C744.6 780.7 750.9 782.4 755.4 782.0 C760.0 781.6 765.2 779.9 769.1 777.2 C773.1 774.4 775.9 768.7 778.9 765.4 C781.3 762.8 783.6 758.6 785.7 758.6 C787.5 758.6 789.1 761.1 790.6 763.5 C793.1 767.7 794.6 776.3 796.5 783.0 C798.5 790.0 800.3 797.9 802.4 804.5 C804.2 810.2 805.7 815.8 808.2 820.2 C810.4 824.1 813.1 828.3 816.1 830.0 C818.5 831.3 821.5 829.9 823.9 831.0 C826.7 832.3 829.6 834.7 831.7 837.8 C834.4 841.7 836.0 847.6 837.6 853.4 C839.5 860.4 840.2 868.9 841.5 876.9 C842.8 885.2 844.0 895.5 845.4 902.3 C846.3 907.0 846.9 913.9 848.3 914.1 C849.6 914.3 851.6 909.4 853.2 906.2 C855.3 902.0 856.5 894.7 859.1 890.6 C861.2 887.3 863.9 883.1 866.8 882.8 C870.0 882.5 875.2 888.0 877.6 890.3 C879.1 891.6 879.6 892.8 880.6 894.1 C881.7 895.3 882.7 896.6 883.7 897.9 C884.7 899.1 885.7 900.3 886.7 901.6 C887.7 902.8 888.7 904.0 889.8 905.2 C890.8 906.5 891.8 907.7 892.8 908.9 C893.8 910.1 894.8 911.2 895.8 912.4 C896.9 913.6 897.9 914.8 898.9 915.9 C899.9 917.1 900.9 918.2 901.9 919.3 C902.9 920.5 903.9 921.6 905.0 922.7 C906.0 923.8 907.0 924.9 908.0 926.0 C909.0 927.1 910.0 928.1 911.0 929.2 C912.1 930.2 913.1 931.3 914.1 932.3 C915.1 933.4 916.1 934.4 917.1 935.4 C918.1 936.4 919.1 937.4 920.2 938.4 C921.2 939.4 922.2 940.4 923.2 941.3 C924.2 942.3 925.2 943.2 926.2 944.2 C927.3 945.1 928.3 946.1 929.3 947.0 C930.3 947.9 931.3 948.9 932.3 949.8 C933.3 950.7 934.3 951.6 935.4 952.5 C936.4 953.4 937.4 954.3 938.4 955.2 C939.4 956.0 940.4 956.9 941.4 957.8 C942.5 958.6 943.5 959.5 944.5 960.3 C945.5 961.2 946.5 962.0 947.5 962.9 C948.5 963.7 949.6 964.6 950.6 965.4 C951.6 966.2 952.6 967.0 953.6 967.9 C954.6 968.7 955.6 969.5 956.6 970.3 C957.7 971.1 958.7 971.9 959.7 972.7 C960.7 973.5 961.7 974.3 962.7 975.1 C963.7 975.9 964.8 976.6 965.8 977.4 C966.8 978.2 967.8 979.0 968.8 979.7 C969.8 980.5 970.8 981.3 971.8 982.0 C972.9 982.8 973.9 983.5 974.9 984.3 C975.9 985.1 976.9 985.8 977.9 986.5 C978.9 987.3 980.0 988.0 981.0 988.8 C982.0 989.5 983.0 990.2 984.0 991.0 C985.0 991.7 986.0 992.4 987.0 993.1 C988.1 993.9 989.1 994.6 990.1 995.3 C991.1 996.0 992.1 996.7 993.1 997.4 C994.1 998.2 995.2 998.9 996.2 999.6 C997.2 1000.3 998.2 1001.0 999.2 1001.7 C1000.2 1002.4 1001.2 1003.1 1002.3 1003.8 C1003.3 1004.5 1004.3 1005.2 1005.3 1005.8 C1006.3 1006.5 1007.3 1007.2 1008.3 1007.9 C1009.3 1008.6 1010.4 1009.3 1011.4 1010.0 C1012.4 1010.7 1013.4 1011.3 1014.4 1012.0 C1015.4 1012.7 1016.4 1013.4 1017.5 1014.1 C1018.5 1014.7 1019.5 1015.4 1020.5 1016.1 C1021.5 1016.8 1022.5 1017.5 1023.5 1018.1 C1024.5 1018.8 1025.6 1019.5 1026.6 1020.1 C1027.6 1020.8 1028.6 1021.5 1029.6 1022.2 C1030.6 1022.8 1031.6 1023.5 1032.7 1024.2 C1033.7 1024.9 1034.7 1025.5 1035.7 1026.2 C1036.7 1026.9 1037.7 1027.5 1038.7 1028.2 C1039.7 1028.9 1040.8 1029.6 1041.8 1030.2 C1042.8 1030.9 1043.8 1031.6 1044.8 1032.3 C1045.8 1032.9 1046.8 1033.6 1047.9 1034.3 C1048.9 1035.0 1049.9 1035.6 1050.9 1036.3 C1051.9 1037.0 1052.9 1037.7 1053.9 1038.3 C1054.9 1039.0 1056.0 1039.7 1057.0 1040.4 C1058.0 1041.1 1059.0 1041.7 1060.0 1042.4 C1061.0 1043.1 1062.0 1043.8 1063.1 1044.5 C1064.1 1045.2 1065.1 1045.9 1066.1 1046.6 C1067.1 1047.3 1068.1 1048.0 1069.1 1048.6 C1070.2 1049.3 1071.2 1050.0 1072.2 1050.7 C1073.2 1051.4 1074.2 1052.1 1075.2 1052.9 C1076.2 1053.6 1077.2 1054.3 1078.3 1055.0 C1079.3 1055.7 1080.3 1056.4 1081.3 1057.1 C1082.3 1057.8 1083.3 1058.6 1084.3 1059.3 C1085.4 1060.0 1086.4 1060.7 1087.4 1061.5 C1088.4 1062.2 1089.4 1062.9 1090.4 1063.7 C1091.4 1064.4 1092.4 1065.2 1093.5 1065.9 C1094.5 1066.6 1095.5 1067.4 1096.5 1068.1 L1102 683.3 C1103.0 683.8 1104.0 684.4 1105.0 684.9 C1106.0 685.4 1107.0 686.0 1108.0 686.5 C1109.0 687.1 1110.0 687.6 1111.0 688.2 C1112.0 688.7 1113.0 689.3 1114.0 689.9 C1115.0 690.4 1116.0 691.0 1117.0 691.6 C1118.0 692.2 1119.0 692.7 1120.0 693.4 C1121.0 694.0 1122.0 694.6 1123.0 695.2 C1124.0 695.8 1125.0 696.5 1126.0 697.1 C1127.0 697.8 1128.0 698.5 1129.0 699.2 C1130.0 699.9 1131.0 700.6 1132.0 701.3 C1133.0 702.1 1134.0 702.8 1135.0 703.6 C1136.0 704.4 1137.0 705.2 1138.0 706.0 C1139.0 706.8 1140.0 707.7 1141.0 708.6 C1142.0 709.4 1143.0 710.3 1144.0 711.3 C1145.0 712.2 1146.0 713.2 1147.0 714.2 C1148.0 715.2 1149.0 716.2 1150.0 717.3 C1151.0 718.4 1152.0 719.5 1153.0 720.6 C1154.0 721.8 1155.0 722.9 1156.0 724.1 C1157.0 725.4 1158.0 726.6 1159.0 727.9 C1160.0 729.2 1161.0 730.5 1162.0 731.9 C1163.0 733.3 1164.0 734.7 1165.0 736.2 C1166.0 737.7 1167.0 739.2 1168.0 740.7 C1169.0 742.3 1170.0 743.9 1171.0 745.6 C1172.0 747.3 1173.0 749.0 1174.0 750.7 C1175.0 752.5 1176.0 754.3 1177.0 756.2 C1178.0 758.1 1179.0 760.0 1180.0 761.9 C1181.0 763.9 1182.0 765.9 1183.0 768.0 C1184.0 770.0 1185.0 772.1 1186.0 774.2 C1187.0 776.3 1188.0 778.5 1189.0 780.6 C1190.0 782.8 1191.0 785.0 1192.0 787.2 C1193.0 789.4 1194.0 791.6 1195.0 793.9 C1196.0 796.1 1197.0 798.4 1198.0 800.6 C1199.0 802.9 1200.0 805.2 1201.0 807.4 C1202.0 809.7 1203.0 812.0 1204.0 814.2 C1205.0 816.5 1206.0 818.8 1207.0 821.0 C1208.0 823.2 1209.0 825.5 1210.0 827.7 C1211.0 829.9 1212.0 832.1 1213.0 834.3 C1214.0 836.4 1215.0 838.6 1216.0 840.7 C1217.0 842.8 1218.0 844.9 1219.0 847.0 C1220.0 849.0 1221.0 851.0 1222.0 853.1 C1223.0 855.0 1224.0 857.0 1225.0 858.9 C1226.0 860.9 1227.0 862.8 1228.0 864.6 C1229.0 866.5 1230.0 868.3 1231.0 870.1 C1232.0 871.9 1233.0 873.7 1234.0 875.4 C1235.0 877.2 1236.0 878.9 1237.0 880.5 C1238.0 882.2 1239.0 883.8 1240.0 885.4 C1241.0 887.0 1242.0 888.5 1243.0 890.0 C1244.0 891.5 1245.0 893.0 1246.0 894.5 C1247.0 895.9 1248.0 897.3 1249.0 898.6 C1250.0 900.0 1251.0 901.3 1252.0 902.6 C1253.0 903.8 1254.0 905.1 1255.0 906.3 C1256.0 907.5 1257.0 908.6 1258.0 909.7 C1259.0 910.8 1260.0 911.9 1261.0 912.9 C1262.0 914.0 1263.0 915.0 1264.0 916.0 C1265.0 916.9 1266.0 917.9 1267.0 918.8 C1268.0 919.7 1269.0 920.6 1270.0 921.5 C1271.0 922.3 1272.0 923.2 1273.0 924.0 C1274.0 924.8 1275.0 925.6 1276.0 926.4 C1277.0 927.2 1278.0 927.9 1279.0 928.7 C1280.0 929.5 1281.0 930.2 1282.0 931.0 C1283.0 931.7 1284.0 932.4 1285.0 933.2" stroke="#D95319"/>
</g>
<line x1="1758.8" y1="1069.5" x2="1758.8" y2="255" stroke="#262626" stroke-opacity="0.15" stroke-width="6.0"/>
<line x1="1957" y1="1069.5" x2="1957" y2="255" stroke="#262626" stroke-opacity="0.15" stroke-width="6.0"/>
<line x1="2155.2" y1="1069.5" x2="2155.2" y2="255" stroke="#262626" stroke-opacity="0.15" stroke-width="6.0"/>
<line x1="2353.5" y1="1069.5" x2="2353.5" y2="255" stroke="#262626" stroke-opacity="0.15" stroke-width="6.0"/>
<line x1="1560.5" y1="865.9" x2="2353.5" y2="865.9" stroke="#262626" stroke-opacity="0.15" stroke-width="6.0"/>
<line x1="1560.5" y1="662.2" x2="2353.5" y2="662.2" stroke="#262626" stroke-opacity="0.15" stroke-width="6.0"/>
<line x1="1560.5" y1="458.6" x2="2353.5" y2="458.6" stroke="#262626" stroke-opacity="0.15" stroke-width="6.0"/>
<line x1="1560.5" y1="255" x2="2353.5" y2="255" stroke="#262626" stroke-opacity="0.15" stroke-width="6.0"/>
<line x1="1758.8" y1="1069.5" x2="1758.8" y2="1057.5" stroke="#262626" stroke-width="6.0"/>
<line x1="1957" y1="1069.5" x2="1957" y2="1057.5" stroke="#262626" stroke-width="6.0"/>
<line x1="2155.2" y1="1069.5" x2="2155.2" y2="1057.5" stroke="#262626" stroke-width="6.0"/>
<line x1="2353.5" y1="1069.5" x2="2353.5" y2="1057.5" stroke="#262626" stroke-width="6.0"/>
<line x1="1560.5" y1="865.9" x2="1571.5" y2="865.9" stroke="#262626" stroke-width="6.0"/>
<line x1="1560.5" y1="662.2" x2="1571.5" y2="662.2" stroke="#262626" stroke-width="6.0"/>
<line x1="1560.5" y1="458.6" x2="1571.5" y2="458.6" stroke="#262626" stroke-width="6.0"/>
<line x1="1560.5" y1="255" x2="1571.5" y2="255" stroke="#262626" stroke-width="6.0"/>
<path d="M1560.5 252 V1069.5 H2356" fill="none" stroke="#262626" stroke-width="5.2" stroke-linejoin="miter"/>
<path d="M1633.2 900.8l14.5 27.0h-29.0zM1614.4 872.9l14.5 27.0h-29.0zM1602.5 845.5l14.5 27.0h-29.0zM1596.5 818.7l14.5 27.0h-29.0zM1594.5 796.1l14.5 27.0h-29.0zM1595.3 776.1l14.5 27.0h-29.0zM1597.4 758.5l14.5 27.0h-29.0zM1601.4 743.0l14.5 27.0h-29.0zM1605.4 731.0l14.5 27.0h-29.0zM1609.7 720.1l14.5 27.0h-29.0zM1614.0 709.9l14.5 27.0h-29.0zM1618.5 702.1l14.5 27.0h-29.0zM1622.5 694.5l14.5 27.0h-29.0zM1622.5 694.5l14.5 27.0h-29.0zM1625.0 690.8l14.5 27.0h-29.0zM1627.7 687.2l14.5 27.0h-29.0zM1630.7 683.8l14.5 27.0h-29.0zM1633.6 680.4l14.5 27.0h-29.0zM1636.6 677.0l14.5 27.0h-29.0zM1639.6 673.7l14.5 27.0h-29.0zM1642.7 670.4l14.5 27.0h-29.0zM1645.7 667.0l14.5 27.0h-29.0zM1649.0 664.0l14.5 27.0h-29.0zM1652.3 661.0l14.5 27.0h-29.0zM1655.7 658.0l14.5 27.0h-29.0zM1659.3 655.2l14.5 27.0h-29.0zM1662.9 652.5l14.5 27.0h-29.0zM1666.6 650.1l14.5 27.0h-29.0zM1670.4 647.7l14.5 27.0h-29.0zM1674.4 645.5l14.5 27.0h-29.0zM1678.4 643.6l14.5 27.0h-29.0zM1682.8 642.5l14.5 27.0h-29.0zM1927.8 539.1l14.5 27.0h-29.0zM1908.2 559.2l14.5 27.0h-29.0zM1883.7 582.2l14.5 27.0h-29.0zM1855.3 599.2l14.5 27.0h-29.0zM1830.4 612.1l14.5 27.0h-29.0zM1809.3 624.9l14.5 27.0h-29.0zM1786.0 641.7l14.5 27.0h-29.0zM1776.1 653.8l14.5 27.0h-29.0zM1764.3 670.7l14.5 27.0h-29.0zM1754.4 689.7l14.5 27.0h-29.0zM1747.6 709.1l14.5 27.0h-29.0zM1743.5 729.0l14.5 27.0h-29.0zM1742.6 749.7l14.5 27.0h-29.0zM1743.9 770.1l14.5 27.0h-29.0zM1747.7 789.1l14.5 27.0h-29.0zM1753.5 804.0l14.5 27.0h-29.0zM1759.9 825.7l14.5 27.0h-29.0zM1773.1 842.2l14.5 27.0h-29.0zM1784.7 855.5l14.5 27.0h-29.0zM1797.9 868.7l14.5 27.0h-29.0zM1811.2 880.3l14.5 27.0h-29.0zM1823.6 890.3l14.5 27.0h-29.0zM1838.5 898.9l14.5 27.0h-29.0zM1852.6 905.5l14.5 27.0h-29.0zM1866.3 911.8l14.5 27.0h-29.0zM1879.9 917.1l14.5 27.0h-29.0zM1879.9 917.1l14.5 27.0h-29.0z" fill="#4DBEEE"/>
<path d="M1658.7 925.0l14.5 27.0h-29.0zM1691.0 945.2l14.5 27.0h-29.0zM1727.2 956.2l14.5 27.0h-29.0zM1764.5 959.9l14.5 27.0h-29.0zM1801.2 956.3l14.5 27.0h-29.0zM1835.5 944.9l14.5 27.0h-29.0zM1865.8 928.0l14.5 27.0h-29.0zM1890.3 906.3l14.5 27.0h-29.0zM1908.8 882.0l14.5 27.0h-29.0zM1921.6 857.8l14.5 27.0h-29.0zM1929.5 835.0l14.5 27.0h-29.0zM1934.8 815.0l14.5 27.0h-29.0zM1936.9 807.2l14.5 27.0h-29.0zM1937.8 796.1l14.5 27.0h-29.0zM1939.8 779.1l14.5 27.0h-29.0zM1940.5 762.7l14.5 27.0h-29.0zM1941.0 746.8l14.5 27.0h-29.0zM1939.4 735.2l14.5 27.0h-29.0zM1939.4 720.3l14.5 27.0h-29.0zM1940.0 706.2l14.5 27.0h-29.0zM1939.5 691.2l14.5 27.0h-29.0zM1941.5 672.9l14.5 27.0h-29.0zM1950.7 654.6l14.5 27.0h-29.0zM1952.9 653.5l14.5 27.0h-29.0zM1955.2 652.3l14.5 27.0h-29.0zM1957.4 651.2l14.5 27.0h-29.0zM1959.6 650.0l14.5 27.0h-29.0zM1961.8 648.9l14.5 27.0h-29.0zM1964.1 647.8l14.5 27.0h-29.0zM1966.3 646.6l14.5 27.0h-29.0zM1968.5 645.5l14.5 27.0h-29.0zM1970.7 644.4l14.5 27.0h-29.0zM1972.9 643.2l14.5 27.0h-29.0zM1975.1 642.0l14.5 27.0h-29.0zM1977.3 640.8l14.5 27.0h-29.0zM1979.6 639.6l14.5 27.0h-29.0zM1981.8 638.5l14.5 27.0h-29.0zM1984.0 637.3l14.5 27.0h-29.0zM1986.2 636.1l14.5 27.0h-29.0zM1988.4 634.9l14.5 27.0h-29.0zM1990.6 633.7l14.5 27.0h-29.0zM1992.8 632.5l14.5 27.0h-29.0zM1994.5 631.6l14.5 27.0h-29.0zM1962.1 776.9l14.5 27.0h-29.0zM1980.0 788.2l14.5 27.0h-29.0zM1998.0 796.7l14.5 27.0h-29.0zM2017.0 801.7l14.5 27.0h-29.0zM2037.5 804.2l14.5 27.0h-29.0zM2058.5 804.2l14.5 27.0h-29.0zM2071.3 801.9l14.5 27.0h-29.0zM2080.0 799.7l14.5 27.0h-29.0zM2100.0 792.2l14.5 27.0h-29.0zM2119.0 778.9l14.5 27.0h-29.0zM2134.0 761.8l14.5 27.0h-29.0zM2142.7 741.9l14.5 27.0h-29.0zM2145.9 722.0l14.5 27.0h-29.0zM2144.8 704.3l14.5 27.0h-29.0zM2142.2 690.3l14.5 27.0h-29.0zM2136.1 679.1l14.5 27.0h-29.0zM2131.3 671.0l14.5 27.0h-29.0zM2125.3 665.0l14.5 27.0h-29.0zM2120.5 659.8l14.5 27.0h-29.0zM2131.0 672.4l14.5 27.0h-29.0zM2124.5 667.2l14.5 27.0h-29.0z" fill="#77AC30"/>
<polygon points="1571.0,667.1 1565.0,673.2 1556.4,673.2 1550.4,667.1 1550.4,658.6 1556.4,652.5 1565.0,652.5 1571.0,658.6" fill="#7E2F8E"/>
<ellipse cx="1957" cy="662.2" rx="396.5" ry="407.2" fill="none" stroke="#A2142F" stroke-width="5.8"/>
<g fill="#D95319"><circle cx="1650.9" cy="374.2" r="3.5"/><circle cx="1684" cy="354.6" r="3.5"/><circle cx="1720" cy="342.6" r="3.5"/><circle cx="1833.8" cy="354.6" r="3.5"/><circle cx="1908.5" cy="420.3" r="3.5"/><circle cx="1934.5" cy="495.6" r="3.5"/><circle cx="1938.6" cy="524.6" r="3.5"/><circle cx="1938.6" cy="540.3" r="3.5"/><circle cx="1887.9" cy="604.9" r="3.5"/><circle cx="1856.4" cy="621.9" r="3.5"/><circle cx="1808.9" cy="646.8" r="3.5"/></g>
<path d="M1658.7 362.4l14.5 27.0h-29.0zM1691.0 342.2l14.5 27.0h-29.0zM1727.2 331.2l14.5 27.0h-29.0zM1764.5 327.5l14.5 27.0h-29.0zM1801.2 331.1l14.5 27.0h-29.0zM1835.5 342.5l14.5 27.0h-29.0zM1865.8 359.4l14.5 27.0h-29.0zM1890.3 381.1l14.5 27.0h-29.0zM1908.8 405.4l14.5 27.0h-29.0zM1921.6 429.6l14.5 27.0h-29.0zM1929.5 452.4l14.5 27.0h-29.0zM1934.8 472.4l14.5 27.0h-29.0zM1936.9 480.2l14.5 27.0h-29.0zM1937.8 491.3l14.5 27.0h-29.0zM1939.8 508.3l14.5 27.0h-29.0zM1940.5 524.7l14.5 27.0h-29.0zM1941.0 540.6l14.5 27.0h-29.0zM1939.4 552.2l14.5 27.0h-29.0zM1939.4 567.1l14.5 27.0h-29.0zM1940.0 581.2l14.5 27.0h-29.0zM1939.5 596.2l14.5 27.0h-29.0zM1941.5 614.5l14.5 27.0h-29.0zM1962.1 510.5l14.5 27.0h-29.0zM1980.0 499.2l14.5 27.0h-29.0zM1998.0 490.7l14.5 27.0h-29.0zM2017.0 485.7l14.5 27.0h-29.0zM2037.5 483.2l14.5 27.0h-29.0zM2058.5 483.2l14.5 27.0h-29.0zM2071.3 485.5l14.5 27.0h-29.0zM2080.0 487.7l14.5 27.0h-29.0zM2100.0 495.2l14.5 27.0h-29.0zM2119.0 508.5l14.5 27.0h-29.0zM2134.0 525.6l14.5 27.0h-29.0zM2142.7 545.5l14.5 27.0h-29.0zM2145.9 565.4l14.5 27.0h-29.0zM2144.8 583.1l14.5 27.0h-29.0zM2142.2 597.1l14.5 27.0h-29.0zM2136.1 608.3l14.5 27.0h-29.0zM2131.3 616.4l14.5 27.0h-29.0zM2125.3 622.4l14.5 27.0h-29.0zM2120.5 627.6l14.5 27.0h-29.0zM2115.0 630.7l14.5 27.0h-29.0z" fill="#4DBEEE"/>
<path d="M2091.0 643.2l14.5 27.0h-29.0zM2093.3 642.3l14.5 27.0h-29.0zM2095.6 641.3l14.5 27.0h-29.0zM2097.9 640.3l14.5 27.0h-29.0zM2100.2 639.2l14.5 27.0h-29.0zM2102.4 638.1l14.5 27.0h-29.0zM2104.7 637.0l14.5 27.0h-29.0zM2106.9 635.9l14.5 27.0h-29.0zM2109.1 634.8l14.5 27.0h-29.0zM2111.3 633.6l14.5 27.0h-29.0zM2113.5 632.4l14.5 27.0h-29.0zM2115.7 631.2l14.5 27.0h-29.0zM2118.0 632.0l14.5 27.0h-29.0zM2120.3 633.0l14.5 27.0h-29.0zM2122.0 633.7l14.5 27.0h-29.0z" fill="#77AC30"/>
<path d="M2080.0 644.2l14.5 27.0h-29.0zM2081.9 644.9l14.5 27.0h-29.0zM2083.8 645.5l14.5 27.0h-29.0zM2085.7 646.2l14.5 27.0h-29.0zM2087.5 646.9l14.5 27.0h-29.0zM2089.4 647.5l14.5 27.0h-29.0zM2091.3 648.2l14.5 27.0h-29.0zM2093.2 648.9l14.5 27.0h-29.0zM2095.1 649.6l14.5 27.0h-29.0zM2097.0 650.2l14.5 27.0h-29.0zM2098.8 650.9l14.5 27.0h-29.0zM2100.7 651.6l14.5 27.0h-29.0zM2102.6 652.2l14.5 27.0h-29.0zM2104.5 652.9l14.5 27.0h-29.0zM2106.4 653.6l14.5 27.0h-29.0zM2108.3 654.2l14.5 27.0h-29.0zM2110.2 654.9l14.5 27.0h-29.0zM2112.0 655.6l14.5 27.0h-29.0zM2113.9 656.3l14.5 27.0h-29.0zM2115.8 656.9l14.5 27.0h-29.0zM2117.7 657.6l14.5 27.0h-29.0z" fill="#4DBEEE"/>
<path d="M2119.0 662.7l14.5 27.0h-29.0zM1633.2 386.6l14.5 27.0h-29.0zM1614.4 414.5l14.5 27.0h-29.0zM1602.5 441.9l14.5 27.0h-29.0zM1596.5 468.7l14.5 27.0h-29.0zM1594.5 491.3l14.5 27.0h-29.0zM1595.3 511.3l14.5 27.0h-29.0zM1597.4 528.9l14.5 27.0h-29.0zM1601.4 544.4l14.5 27.0h-29.0zM1605.4 556.4l14.5 27.0h-29.0zM1609.7 567.3l14.5 27.0h-29.0zM1614.0 577.5l14.5 27.0h-29.0zM1618.5 585.3l14.5 27.0h-29.0zM1622.5 592.9l14.5 27.0h-29.0zM1622.5 592.9l14.5 27.0h-29.0zM1625.0 596.6l14.5 27.0h-29.0zM1627.7 600.2l14.5 27.0h-29.0zM1630.7 603.6l14.5 27.0h-29.0zM1633.6 607.0l14.5 27.0h-29.0zM1636.6 610.4l14.5 27.0h-29.0zM1639.6 613.7l14.5 27.0h-29.0zM1642.7 617.0l14.5 27.0h-29.0zM1645.7 620.4l14.5 27.0h-29.0zM1649.0 623.4l14.5 27.0h-29.0zM1652.3 626.4l14.5 27.0h-29.0zM1655.7 629.4l14.5 27.0h-29.0zM1659.3 632.2l14.5 27.0h-29.0zM1662.9 634.9l14.5 27.0h-29.0zM1666.6 637.3l14.5 27.0h-29.0zM1670.4 639.7l14.5 27.0h-29.0zM1674.4 641.9l14.5 27.0h-29.0zM1678.4 643.8l14.5 27.0h-29.0zM1682.8 644.9l14.5 27.0h-29.0zM1927.8 748.3l14.5 27.0h-29.0zM1908.2 728.2l14.5 27.0h-29.0zM1883.7 705.2l14.5 27.0h-29.0zM1855.3 688.2l14.5 27.0h-29.0zM1830.4 675.3l14.5 27.0h-29.0zM1809.3 662.5l14.5 27.0h-29.0zM1786.0 645.7l14.5 27.0h-29.0zM1776.1 633.6l14.5 27.0h-29.0zM1764.3 616.7l14.5 27.0h-29.0zM1754.4 597.7l14.5 27.0h-29.0zM1747.6 578.3l14.5 27.0h-29.0zM1743.5 558.4l14.5 27.0h-29.0zM1742.6 537.7l14.5 27.0h-29.0zM1743.9 517.3l14.5 27.0h-29.0zM1747.7 498.3l14.5 27.0h-29.0zM1753.5 483.4l14.5 27.0h-29.0zM1759.9 461.7l14.5 27.0h-29.0zM1773.1 445.2l14.5 27.0h-29.0zM1784.7 431.9l14.5 27.0h-29.0zM1797.9 418.7l14.5 27.0h-29.0zM1811.2 407.1l14.5 27.0h-29.0zM1823.6 397.1l14.5 27.0h-29.0zM1838.5 388.5l14.5 27.0h-29.0zM1852.6 381.9l14.5 27.0h-29.0zM1866.3 375.6l14.5 27.0h-29.0zM1879.9 370.3l14.5 27.0h-29.0zM1879.9 370.3l14.5 27.0h-29.0zM1890.8 366.7l14.5 27.0h-29.0zM1901.9 363.7l14.5 27.0h-29.0zM1913.2 361.3l14.5 27.0h-29.0zM1924.5 359.1l14.5 27.0h-29.0zM1935.8 357.2l14.5 27.0h-29.0zM1947.2 356.1l14.5 27.0h-29.0zM1958.7 355.4l14.5 27.0h-29.0zM1970.2 354.6l14.5 27.0h-29.0zM1981.7 354.3l14.5 27.0h-29.0zM1993.2 355.1l14.5 27.0h-29.0zM2004.6 355.7l14.5 27.0h-29.0zM2016.1 356.7l14.5 27.0h-29.0zM2027.6 357.6l14.5 27.0h-29.0zM2039.0 358.6l14.5 27.0h-29.0zM2050.4 359.9l14.5 27.0h-29.0zM2061.7 362.1l14.5 27.0h-29.0zM2072.9 364.7l14.5 27.0h-29.0zM2084.1 367.3l14.5 27.0h-29.0zM2095.3 370.0l14.5 27.0h-29.0zM2106.4 372.9l14.5 27.0h-29.0zM2117.5 375.8l14.5 27.0h-29.0zM2128.5 379.1l14.5 27.0h-29.0zM2139.8 381.5l14.5 27.0h-29.0zM2152.0 384.2l14.5 27.0h-29.0zM2159.9 385.5l14.5 27.0h-29.0zM2167.9 386.4l14.5 27.0h-29.0zM2175.8 386.8l14.5 27.0h-29.0zM2183.8 387.2l14.5 27.0h-29.0zM2191.8 387.2l14.5 27.0h-29.0zM2199.8 387.1l14.5 27.0h-29.0zM2207.6 386.2l14.5 27.0h-29.0zM2213.8 381.3l14.5 27.0h-29.0zM2219.0 375.2l14.5 27.0h-29.0zM2222.8 368.1l14.5 27.0h-29.0zM2226.8 361.3l14.5 27.0h-29.0zM2231.9 355.1l14.5 27.0h-29.0zM2236.7 348.7l14.5 27.0h-29.0zM2242.8 343.6l14.5 27.0h-29.0zM2249.1 338.6l14.5 27.0h-29.0zM2255.3 333.6l14.5 27.0h-29.0zM2261.5 328.5l14.5 27.0h-29.0zM2267.9 323.7l14.5 27.0h-29.0zM2274.9 319.9l14.5 27.0h-29.0zM2282.2 316.6l14.5 27.0h-29.0zM2289.7 313.7l14.5 27.0h-29.0zM2297.3 311.3l14.5 27.0h-29.0zM2304.9 308.9l14.5 27.0h-29.0zM2312.8 307.8l14.5 27.0h-29.0zM2320.8 307.2l14.5 27.0h-29.0zM2328.8 307.2l14.5 27.0h-29.0zM2336.8 307.3l14.5 27.0h-29.0zM2344.8 307.6l14.5 27.0h-29.0zM2348.0 307.7l14.5 27.0h-29.0z" fill="#77AC30"/>
<path d="M2346.5 299.2l14.5 27.0h-29.0zM2333.9 298.2l14.5 27.0h-29.0zM2320.2 297.7l14.5 27.0h-29.0zM2306.5 298.7l14.5 27.0h-29.0zM2293.4 301.2l14.5 27.0h-29.0zM2281.2 304.2l14.5 27.0h-29.0zM2269.6 308.7l14.5 27.0h-29.0zM2258.0 313.7l14.5 27.0h-29.0zM2247.5 318.7l14.5 27.0h-29.0zM2237.0 323.7l14.5 27.0h-29.0zM2228.0 328.7l14.5 27.0h-29.0zM2222.0 333.7l14.5 27.0h-29.0zM2218.2 338.3l14.5 27.0h-29.0zM2214.5 343.1l14.5 27.0h-29.0zM2211.0 347.9l14.5 27.0h-29.0zM2207.8 353.0l14.5 27.0h-29.0zM2204.8 358.2l14.5 27.0h-29.0zM2201.8 363.4l14.5 27.0h-29.0zM2199.0 368.7l14.5 27.0h-29.0zM2196.3 374.1l14.5 27.0h-29.0zM2193.6 379.4l14.5 27.0h-29.0zM2191.1 384.9l14.5 27.0h-29.0zM2188.7 390.3l14.5 27.0h-29.0zM2186.0 395.7l14.5 27.0h-29.0zM2183.3 401.1l14.5 27.0h-29.0zM2180.6 406.5l14.5 27.0h-29.0zM2177.7 411.7l14.5 27.0h-29.0zM2174.6 416.8l14.5 27.0h-29.0zM2171.4 421.9l14.5 27.0h-29.0zM2167.7 426.6l14.5 27.0h-29.0zM2163.4 430.8l14.5 27.0h-29.0zM2158.6 434.4l14.5 27.0h-29.0zM2153.1 436.7l14.5 27.0h-29.0zM2147.3 438.2l14.5 27.0h-29.0zM2141.4 438.9l14.5 27.0h-29.0zM2135.4 438.9l14.5 27.0h-29.0zM2129.4 438.6l14.5 27.0h-29.0zM2123.4 438.1l14.5 27.0h-29.0zM2117.4 437.6l14.5 27.0h-29.0zM2107.4 437.1l14.5 27.0h-29.0zM2097.0 436.8l14.5 27.0h-29.0zM2084.6 438.5l14.5 27.0h-29.0zM2071.3 440.1l14.5 27.0h-29.0zM2057.3 444.3l14.5 27.0h-29.0zM2042.4 450.6l14.5 27.0h-29.0zM2027.1 459.2l14.5 27.0h-29.0zM2011.7 470.8l14.5 27.0h-29.0zM1996.0 484.0l14.5 27.0h-29.0zM1981.1 500.2l14.5 27.0h-29.0zM1970.0 514.7l14.5 27.0h-29.0zM1964.0 528.7l14.5 27.0h-29.0zM1960.0 540.7l14.5 27.0h-29.0zM1957.0 551.7l14.5 27.0h-29.0zM1955.5 563.7l14.5 27.0h-29.0zM1955.0 576.7l14.5 27.0h-29.0zM1955.7 592.7l14.5 27.0h-29.0zM1958.0 607.7l14.5 27.0h-29.0zM1962.0 621.7l14.5 27.0h-29.0zM1941.5 614.5l14.5 27.0h-29.0zM1942.6 616.7l14.5 27.0h-29.0zM1943.7 619.0l14.5 27.0h-29.0zM1944.9 621.2l14.5 27.0h-29.0zM1946.0 623.4l14.5 27.0h-29.0zM1947.1 625.7l14.5 27.0h-29.0zM1948.2 627.9l14.5 27.0h-29.0zM1949.4 630.1l14.5 27.0h-29.0zM1950.5 632.4l14.5 27.0h-29.0zM1952.5 633.7l14.5 27.0h-29.0zM1954.7 634.9l14.5 27.0h-29.0zM1956.9 636.0l14.5 27.0h-29.0zM1959.2 637.1l14.5 27.0h-29.0zM1961.4 638.3l14.5 27.0h-29.0zM1963.6 639.4l14.5 27.0h-29.0zM1965.8 640.6l14.5 27.0h-29.0zM1968.1 641.7l14.5 27.0h-29.0zM1970.3 642.8l14.5 27.0h-29.0zM1972.5 644.0l14.5 27.0h-29.0zM1974.7 645.2l14.5 27.0h-29.0zM1976.9 646.3l14.5 27.0h-29.0zM1979.1 647.5l14.5 27.0h-29.0zM1981.3 648.7l14.5 27.0h-29.0zM1983.5 649.9l14.5 27.0h-29.0zM1985.7 651.1l14.5 27.0h-29.0zM1987.9 652.3l14.5 27.0h-29.0zM1990.1 653.5l14.5 27.0h-29.0zM1992.3 654.6l14.5 27.0h-29.0zM1994.5 655.8l14.5 27.0h-29.0z" fill="#4DBEEE"/>
<g fill="#D95319"><circle cx="1608" cy="731.9" r="3.5"/><circle cx="1603" cy="740.6" r="3.5"/><circle cx="1594.7" cy="763.8" r="3.5"/><circle cx="1590.9" cy="779.5" r="3.5"/><circle cx="1588.1" cy="796.9" r="3.5"/><circle cx="1743.7" cy="790.6" r="3.5"/><circle cx="1748.7" cy="809.7" r="3.5"/><circle cx="1763.6" cy="845.8" r="3.5"/><circle cx="1797.6" cy="888.8" r="3.5"/><circle cx="1810.7" cy="900.2" r="3.5"/></g>
<g fill="#D95319"><circle cx="1982.8" cy="518" r="3.5"/><circle cx="1996.8" cy="501.4" r="3.5"/><circle cx="2018.4" cy="503.1" r="3.5"/><circle cx="2012.2" cy="487.8" r="3.5"/><circle cx="2027.5" cy="476.9" r="3.5"/><circle cx="2042.4" cy="469.1" r="3.5"/><circle cx="2038.7" cy="500.1" r="3.5"/><circle cx="2058.9" cy="499.7" r="3.5"/><circle cx="1962.9" cy="527.9" r="3.5"/><circle cx="2333.5" cy="315.7" r="3.5"/><circle cx="2280.6" cy="321.2" r="3.5"/><circle cx="2267.9" cy="325.4" r="3.5"/><circle cx="2147.8" cy="578" r="3.5"/><circle cx="2147.8" cy="594.8" r="3.5"/><circle cx="2145.1" cy="608.9" r="3.5"/><circle cx="2140.6" cy="620.1" r="3.5"/><circle cx="2136.1" cy="628.6" r="3.5"/><circle cx="2130.7" cy="635.1" r="3.5"/><circle cx="2333.5" cy="315.7" r="3.5"/><circle cx="2280.6" cy="321.2" r="3.5"/><circle cx="2267.9" cy="325.4" r="3.5"/></g>
<g fill="#0072BD"><circle cx="1626" cy="401.3" r="3.5"/><circle cx="1605.7" cy="428.4" r="3.5"/><circle cx="1595.9" cy="457" r="3.5"/><circle cx="1588.4" cy="482.6" r="3.5"/><circle cx="1587" cy="507" r="3.5"/><circle cx="1587.6" cy="527.9" r="3.5"/><circle cx="1598.9" cy="574.1" r="3.5"/><circle cx="1773.8" cy="463" r="3.5"/><circle cx="1763.8" cy="478.8" r="3.5"/><circle cx="1763.7" cy="631.9" r="3.5"/><circle cx="1809.3" cy="677.4" r="3.5"/><circle cx="1887.9" cy="719.6" r="3.5"/><circle cx="1911.9" cy="745.3" r="3.5"/><circle cx="1893.6" cy="383.9" r="3.5"/><circle cx="1906.9" cy="380.6" r="3.5"/><circle cx="2090.4" cy="387.2" r="3.5"/><circle cx="2116" cy="393" r="3.5"/><circle cx="2133.7" cy="397.5" r="3.5"/><circle cx="2141" cy="399.6" r="3.5"/><circle cx="2149.5" cy="401.3" r="3.5"/><circle cx="1936.1" cy="709.2" r="3.5"/><circle cx="1936.9" cy="740" r="3.5"/><circle cx="1930.1" cy="766.4" r="3.5"/><circle cx="1946.9" cy="783" r="3.5"/><circle cx="1981.3" cy="807.3" r="3.5"/><circle cx="2000.1" cy="815.7" r="3.5"/><circle cx="2018.9" cy="822.1" r="3.5"/><circle cx="2071.5" cy="822.8" r="3.5"/><circle cx="2118.9" cy="801.3" r="3.5"/><circle cx="2134" cy="784.7" r="3.5"/><circle cx="2143.8" cy="765.6" r="3.5"/><circle cx="2148.3" cy="746.8" r="3.5"/><circle cx="2112.2" cy="652.8" r="3.5"/><circle cx="2121.2" cy="646" r="3.5"/><circle cx="1760" cy="985.5" r="3.5"/></g>
<text transform="translate(757.0 83.9) scale(0.904 1)" font-size="106.2" fill="#000000">Y</text>
<text transform="translate(815.0 103.9) scale(0.913 1)" font-size="66.0" fill="#000000">pn</text>
<text transform="translate(79.3 614.1) rotate(-90) scale(1.029 1)" font-size="71.6" fill="#262626">amplitude/dB</text>
<text transform="translate(159.0 258.9) scale(1.076 1)" font-size="67.9" fill="#262626">0</text>
<text transform="translate(113.8 446.4) scale(0.973 1)" font-size="68.7" fill="#262626">-20</text>
<text transform="translate(115.5 615.0) scale(0.969 1)" font-size="68.7" fill="#262626">-40</text>
<text transform="translate(114.0 691.2) scale(0.950 1)" font-size="69.9" fill="#262626">200</text>
<text transform="translate(110.9 794.2) scale(0.952 1)" font-size="68.2" fill="#262626">100</text>
<text transform="translate(154.0 886.9) scale(1.069 1)" font-size="68.4" fill="#262626">0</text>
<text transform="translate(87.5 998.0)" font-size="66.2" fill="#262626">-100</text>
<text transform="translate(86.0 1103.9) scale(0.969 1)" font-size="68.4" fill="#262626">-200</text>
<text transform="translate(72.5 967.3) rotate(-90) scale(1.079 1)" font-size="71.2" fill="#262626">phase/°</text>
<text transform="translate(151.8 1202.4) scale(0.970 1)" font-size="85.0" fill="#262626">10</text>
<text transform="translate(231.0 1166.4) scale(1.071 1)" font-size="71.3" fill="#262626">0</text>
<text transform="translate(501.8 1202.4) scale(0.970 1)" font-size="85.0" fill="#262626">10</text>
<text transform="translate(584.8 1166.0) scale(0.808 1)" font-size="71.1" fill="#262626">1</text>
<text transform="translate(847.0 1202.4) scale(0.959 1)" font-size="85.0" fill="#262626">10</text>
<text transform="translate(925.9 1166.0) scale(1.074 1)" font-size="72.2" fill="#262626">2</text>
<text transform="translate(1195.0 1202.4) scale(0.971 1)" font-size="85.0" fill="#262626">10</text>
<text transform="translate(1275.9 1166.4) scale(0.913 1)" font-size="72.4" fill="#262626">3</text>
<text transform="translate(558.0 1292.4) scale(0.925 1)" font-size="74.8" fill="#262626">frequency/Hz</text>
<text transform="translate(1479.0 297.8) scale(0.705 1)" font-size="85.2" fill="#000000">1</text>
<text transform="translate(1434.0 482.8) scale(0.922 1)" font-size="84.3" fill="#000000">0.5</text>
<text transform="translate(1478.5 688.2) scale(1.016 1)" font-size="84.3" fill="#000000">0</text>
<text transform="translate(1410.0 886.9) scale(0.914 1)" font-size="85.4" fill="#000000">-0.5</text>
<text transform="translate(1454.9 1090.2) scale(0.862 1)" font-size="84.4" fill="#000000">-1</text>
<text transform="translate(1487.0 1184.1) scale(0.877 1)" font-size="84.4" fill="#000000">-1</text>
<text transform="translate(1679.0 1176.0) scale(0.909 1)" font-size="86.6" fill="#000000">-0.5</text>
<text transform="translate(1922.8 1176.2) scale(1.012 1)" font-size="84.5" fill="#000000">0</text>
<text transform="translate(2100.5 1180.0) scale(0.916 1)" font-size="86.6" fill="#000000">0.5</text>
<text transform="translate(2332.8 1175.2) scale(0.681 1)" font-size="86.8" fill="#000000">1</text>
<text transform="translate(1904.8 1268.4) scale(1.057 1)" font-size="80.3" fill="#000000">Re</text>
<text transform="translate(1407.4 697.5) rotate(-90) scale(1.059 1)" font-size="80.2" fill="#000000">Im</text>
</svg>
</body></html>
